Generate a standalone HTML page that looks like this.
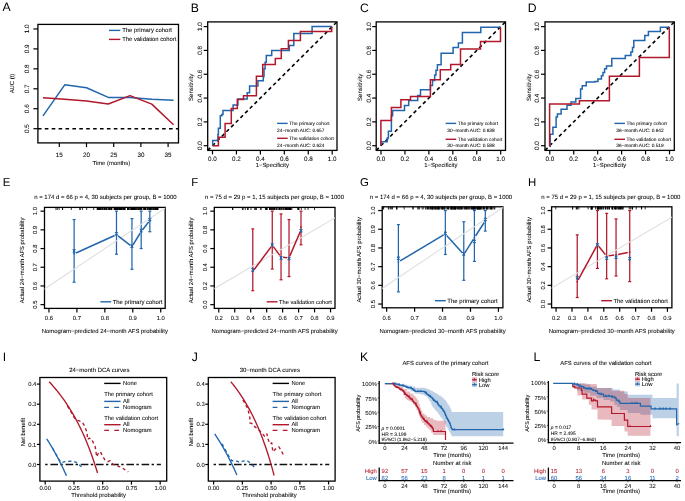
<!DOCTYPE html><html><head><meta charset="utf-8"><style>html,body{margin:0;padding:0;background:#fff;}svg{display:block;will-change:transform;}text{font-family:"Liberation Sans",sans-serif;text-rendering:geometricPrecision;stroke-width:0.05px;}</style></head><body>
<svg width="685" height="501" viewBox="0 0 685 501">
<rect width="685" height="501" fill="#fff"/>
<text x="2.4" y="11.42" font-size="12.2" fill="#000">A</text>
<rect x="37.9" y="24.4" width="140.6" height="118.5" fill="none" stroke="#000" stroke-width="1.3"/>
<line x1="33.4" y1="128.7" x2="37.9" y2="128.7" stroke="#000" stroke-width="1.2" stroke-linecap="butt"/>
<text transform="translate(26.3,128.7) rotate(-90)" x="0" y="2.27" font-size="6.3" text-anchor="middle" fill="#000" stroke="#000">0.5</text>
<line x1="33.4" y1="108.75" x2="37.9" y2="108.75" stroke="#000" stroke-width="1.2" stroke-linecap="butt"/>
<text transform="translate(26.3,108.75) rotate(-90)" x="0" y="2.27" font-size="6.3" text-anchor="middle" fill="#000" stroke="#000">0.6</text>
<line x1="33.4" y1="88.8" x2="37.9" y2="88.8" stroke="#000" stroke-width="1.2" stroke-linecap="butt"/>
<text transform="translate(26.3,88.8) rotate(-90)" x="0" y="2.27" font-size="6.3" text-anchor="middle" fill="#000" stroke="#000">0.7</text>
<line x1="33.4" y1="68.85" x2="37.9" y2="68.85" stroke="#000" stroke-width="1.2" stroke-linecap="butt"/>
<text transform="translate(26.3,68.85) rotate(-90)" x="0" y="2.27" font-size="6.3" text-anchor="middle" fill="#000" stroke="#000">0.8</text>
<line x1="33.4" y1="48.9" x2="37.9" y2="48.9" stroke="#000" stroke-width="1.2" stroke-linecap="butt"/>
<text transform="translate(26.3,48.9) rotate(-90)" x="0" y="2.27" font-size="6.3" text-anchor="middle" fill="#000" stroke="#000">0.9</text>
<line x1="33.4" y1="28.95" x2="37.9" y2="28.95" stroke="#000" stroke-width="1.2" stroke-linecap="butt"/>
<text transform="translate(26.3,28.95) rotate(-90)" x="0" y="2.27" font-size="6.3" text-anchor="middle" fill="#000" stroke="#000">1.0</text>
<line x1="59.3" y1="142.9" x2="59.3" y2="147.1" stroke="#000" stroke-width="1.2" stroke-linecap="butt"/>
<text x="59.3" y="156.77" font-size="6.3" text-anchor="middle" fill="#000" stroke="#000">15</text>
<line x1="86.5" y1="142.9" x2="86.5" y2="147.1" stroke="#000" stroke-width="1.2" stroke-linecap="butt"/>
<text x="86.5" y="156.77" font-size="6.3" text-anchor="middle" fill="#000" stroke="#000">20</text>
<line x1="113.7" y1="142.9" x2="113.7" y2="147.1" stroke="#000" stroke-width="1.2" stroke-linecap="butt"/>
<text x="113.7" y="156.77" font-size="6.3" text-anchor="middle" fill="#000" stroke="#000">25</text>
<line x1="140.9" y1="142.9" x2="140.9" y2="147.1" stroke="#000" stroke-width="1.2" stroke-linecap="butt"/>
<text x="140.9" y="156.77" font-size="6.3" text-anchor="middle" fill="#000" stroke="#000">30</text>
<line x1="168.1" y1="142.9" x2="168.1" y2="147.1" stroke="#000" stroke-width="1.2" stroke-linecap="butt"/>
<text x="168.1" y="156.77" font-size="6.3" text-anchor="middle" fill="#000" stroke="#000">35</text>
<text x="111.4" y="165.02" font-size="5.9" text-anchor="middle" fill="#000" stroke="#000">Time (months)</text>
<text transform="translate(12.2,83.5) rotate(-90)" x="0" y="2.12" font-size="5.9" text-anchor="middle" fill="#000" stroke="#000">AUC (t)</text>
<line x1="37.9" y1="128.7" x2="178.5" y2="128.7" stroke="#000" stroke-width="1.6" stroke-dasharray="3.6,3.3" stroke-linecap="butt"/>
<polyline points="42.98,115.93 64.74,84.81 86.5,87.8 108.26,97.38 130.02,97.38 151.78,99.17 173.54,100.37" fill="none" stroke="#2166AC" stroke-width="1.5" stroke-linejoin="round" stroke-linecap="butt"/>
<polyline points="42.98,97.78 64.74,99.27 86.5,100.97 108.26,103.96 130.02,95.58 151.78,104.16 173.54,124.71" fill="none" stroke="#B2182B" stroke-width="1.5" stroke-linejoin="round" stroke-linecap="butt"/>
<line x1="109" y1="30.4" x2="120.3" y2="30.4" stroke="#2166AC" stroke-width="1.4" stroke-linecap="butt"/>
<line x1="109" y1="39.4" x2="120.3" y2="39.4" stroke="#B2182B" stroke-width="1.4" stroke-linecap="butt"/>
<text x="122.2" y="32.04" font-size="5.95" text-anchor="start" fill="#000" stroke="#000">The primary cohort</text>
<text x="122.2" y="41.01" font-size="5.85" text-anchor="start" fill="#000" stroke="#000">The validation cohort</text>
<text x="190.7" y="11.62" font-size="12.2" fill="#000">B</text>
<rect x="207.7" y="21.9" width="129.3" height="128.5" fill="none" stroke="#000" stroke-width="1.3"/>
<line x1="203.7" y1="145.7" x2="207.7" y2="145.7" stroke="#000" stroke-width="1.2" stroke-linecap="butt"/>
<line x1="212.5" y1="150.4" x2="212.5" y2="154.4" stroke="#000" stroke-width="1.2" stroke-linecap="butt"/>
<text transform="translate(199.8,145.7) rotate(-90)" x="0" y="2.27" font-size="6.3" text-anchor="middle" fill="#000" stroke="#000">0.0</text>
<text x="212.5" y="160.57" font-size="6.3" text-anchor="middle" fill="#000" stroke="#000">0.0</text>
<line x1="203.7" y1="121.88" x2="207.7" y2="121.88" stroke="#000" stroke-width="1.2" stroke-linecap="butt"/>
<line x1="236.44" y1="150.4" x2="236.44" y2="154.4" stroke="#000" stroke-width="1.2" stroke-linecap="butt"/>
<text transform="translate(199.8,121.88) rotate(-90)" x="0" y="2.27" font-size="6.3" text-anchor="middle" fill="#000" stroke="#000">0.2</text>
<text x="236.44" y="160.57" font-size="6.3" text-anchor="middle" fill="#000" stroke="#000">0.2</text>
<line x1="203.7" y1="98.06" x2="207.7" y2="98.06" stroke="#000" stroke-width="1.2" stroke-linecap="butt"/>
<line x1="260.38" y1="150.4" x2="260.38" y2="154.4" stroke="#000" stroke-width="1.2" stroke-linecap="butt"/>
<text transform="translate(199.8,98.06) rotate(-90)" x="0" y="2.27" font-size="6.3" text-anchor="middle" fill="#000" stroke="#000">0.4</text>
<text x="260.38" y="160.57" font-size="6.3" text-anchor="middle" fill="#000" stroke="#000">0.4</text>
<line x1="203.7" y1="74.24" x2="207.7" y2="74.24" stroke="#000" stroke-width="1.2" stroke-linecap="butt"/>
<line x1="284.32" y1="150.4" x2="284.32" y2="154.4" stroke="#000" stroke-width="1.2" stroke-linecap="butt"/>
<text transform="translate(199.8,74.24) rotate(-90)" x="0" y="2.27" font-size="6.3" text-anchor="middle" fill="#000" stroke="#000">0.6</text>
<text x="284.32" y="160.57" font-size="6.3" text-anchor="middle" fill="#000" stroke="#000">0.6</text>
<line x1="203.7" y1="50.42" x2="207.7" y2="50.42" stroke="#000" stroke-width="1.2" stroke-linecap="butt"/>
<line x1="308.26" y1="150.4" x2="308.26" y2="154.4" stroke="#000" stroke-width="1.2" stroke-linecap="butt"/>
<text transform="translate(199.8,50.42) rotate(-90)" x="0" y="2.27" font-size="6.3" text-anchor="middle" fill="#000" stroke="#000">0.8</text>
<text x="308.26" y="160.57" font-size="6.3" text-anchor="middle" fill="#000" stroke="#000">0.8</text>
<line x1="203.7" y1="26.6" x2="207.7" y2="26.6" stroke="#000" stroke-width="1.2" stroke-linecap="butt"/>
<line x1="332.2" y1="150.4" x2="332.2" y2="154.4" stroke="#000" stroke-width="1.2" stroke-linecap="butt"/>
<text transform="translate(199.8,26.6) rotate(-90)" x="0" y="2.27" font-size="6.3" text-anchor="middle" fill="#000" stroke="#000">1.0</text>
<text x="332.2" y="160.57" font-size="6.3" text-anchor="middle" fill="#000" stroke="#000">1.0</text>
<text x="272.35" y="166.92" font-size="5.9" text-anchor="middle" fill="#000" stroke="#000">1−Specificity</text>
<text transform="translate(191.1,87.35) rotate(-90)" x="0" y="2.2" font-size="6.1" text-anchor="middle" fill="#000" stroke="#000">Sensitivity</text>
<line x1="207.7" y1="150.4" x2="337" y2="21.9" stroke="#000" stroke-width="1.6" stroke-dasharray="3.6,3.0" stroke-linecap="butt"/>
<polyline points="212.7,145.7 212.7,140.5 217.9,140.5 217.9,134.5 218.4,134.5 218.4,128.3 220.3,128.3 220.3,115.7 221.8,115.7 221.8,114.6 223,114.6 223,110.4 233.1,110.4 233.1,105 237.9,105 237.9,99 247.2,99 247.2,92.7 249.6,92.7 249.6,85.9 257.9,85.9 257.9,80.7 263.3,80.7 263.3,76.5 264,76.5 264,68.7 265.1,68.7 265.1,62.2 266.3,62.2 266.3,55.6 271.7,55.6 271.7,50.6 289.3,50.6 289.3,45.5 293.8,45.5 293.8,33.4 312.1,33.4 312.1,26.6 331.7,26.6" fill="none" stroke="#2166AC" stroke-width="1.5" stroke-linejoin="miter" stroke-linecap="butt"/>
<polyline points="212.7,145.7 218.4,145.7 218.4,137.3 225.1,137.3 225.1,123.5 231.3,123.5 231.3,108.6 237.3,108.6 237.3,99.6 243.5,99.6 243.5,95.7 256.4,95.7 256.4,76.3 262.7,76.3 262.7,64.6 275.3,64.6 275.3,58.6 281.3,58.6 281.3,48.7 288.4,48.7 288.4,40.6 300.4,40.6 300.4,31.6 331.7,31.6 331.7,26.6" fill="none" stroke="#B2182B" stroke-width="1.5" stroke-linejoin="miter" stroke-linecap="butt"/>
<line x1="277.1" y1="123.4" x2="287.7" y2="123.4" stroke="#2166AC" stroke-width="1.4" stroke-linecap="butt"/>
<text x="289.3" y="125.13" font-size="4.8" text-anchor="start" fill="#000" stroke="#000">The primary cohort</text>
<text x="277.1" y="132.03" font-size="4.8" text-anchor="start" fill="#000" stroke="#000">24−month AUC: 0.657</text>
<line x1="277.1" y1="138.3" x2="287.7" y2="138.3" stroke="#B2182B" stroke-width="1.4" stroke-linecap="butt"/>
<text x="289.3" y="140.03" font-size="4.8" text-anchor="start" fill="#000" stroke="#000">The validation cohort</text>
<text x="277.1" y="146.63" font-size="4.8" text-anchor="start" fill="#000" stroke="#000">24−month AUC: 0.624</text>
<text x="360" y="11.62" font-size="12.2" fill="#000">C</text>
<rect x="376.2" y="21.9" width="129.3" height="128.5" fill="none" stroke="#000" stroke-width="1.3"/>
<line x1="372.2" y1="145.7" x2="376.2" y2="145.7" stroke="#000" stroke-width="1.2" stroke-linecap="butt"/>
<line x1="381" y1="150.4" x2="381" y2="154.4" stroke="#000" stroke-width="1.2" stroke-linecap="butt"/>
<text transform="translate(368.3,145.7) rotate(-90)" x="0" y="2.27" font-size="6.3" text-anchor="middle" fill="#000" stroke="#000">0.0</text>
<text x="381" y="160.57" font-size="6.3" text-anchor="middle" fill="#000" stroke="#000">0.0</text>
<line x1="372.2" y1="121.88" x2="376.2" y2="121.88" stroke="#000" stroke-width="1.2" stroke-linecap="butt"/>
<line x1="404.94" y1="150.4" x2="404.94" y2="154.4" stroke="#000" stroke-width="1.2" stroke-linecap="butt"/>
<text transform="translate(368.3,121.88) rotate(-90)" x="0" y="2.27" font-size="6.3" text-anchor="middle" fill="#000" stroke="#000">0.2</text>
<text x="404.94" y="160.57" font-size="6.3" text-anchor="middle" fill="#000" stroke="#000">0.2</text>
<line x1="372.2" y1="98.06" x2="376.2" y2="98.06" stroke="#000" stroke-width="1.2" stroke-linecap="butt"/>
<line x1="428.88" y1="150.4" x2="428.88" y2="154.4" stroke="#000" stroke-width="1.2" stroke-linecap="butt"/>
<text transform="translate(368.3,98.06) rotate(-90)" x="0" y="2.27" font-size="6.3" text-anchor="middle" fill="#000" stroke="#000">0.4</text>
<text x="428.88" y="160.57" font-size="6.3" text-anchor="middle" fill="#000" stroke="#000">0.4</text>
<line x1="372.2" y1="74.24" x2="376.2" y2="74.24" stroke="#000" stroke-width="1.2" stroke-linecap="butt"/>
<line x1="452.82" y1="150.4" x2="452.82" y2="154.4" stroke="#000" stroke-width="1.2" stroke-linecap="butt"/>
<text transform="translate(368.3,74.24) rotate(-90)" x="0" y="2.27" font-size="6.3" text-anchor="middle" fill="#000" stroke="#000">0.6</text>
<text x="452.82" y="160.57" font-size="6.3" text-anchor="middle" fill="#000" stroke="#000">0.6</text>
<line x1="372.2" y1="50.42" x2="376.2" y2="50.42" stroke="#000" stroke-width="1.2" stroke-linecap="butt"/>
<line x1="476.76" y1="150.4" x2="476.76" y2="154.4" stroke="#000" stroke-width="1.2" stroke-linecap="butt"/>
<text transform="translate(368.3,50.42) rotate(-90)" x="0" y="2.27" font-size="6.3" text-anchor="middle" fill="#000" stroke="#000">0.8</text>
<text x="476.76" y="160.57" font-size="6.3" text-anchor="middle" fill="#000" stroke="#000">0.8</text>
<line x1="372.2" y1="26.6" x2="376.2" y2="26.6" stroke="#000" stroke-width="1.2" stroke-linecap="butt"/>
<line x1="500.7" y1="150.4" x2="500.7" y2="154.4" stroke="#000" stroke-width="1.2" stroke-linecap="butt"/>
<text transform="translate(368.3,26.6) rotate(-90)" x="0" y="2.27" font-size="6.3" text-anchor="middle" fill="#000" stroke="#000">1.0</text>
<text x="500.7" y="160.57" font-size="6.3" text-anchor="middle" fill="#000" stroke="#000">1.0</text>
<text x="440.85" y="166.92" font-size="5.9" text-anchor="middle" fill="#000" stroke="#000">1−Specificity</text>
<text transform="translate(359.6,87.35) rotate(-90)" x="0" y="2.2" font-size="6.1" text-anchor="middle" fill="#000" stroke="#000">Sensitivity</text>
<line x1="376.2" y1="150.4" x2="505.5" y2="21.9" stroke="#000" stroke-width="1.6" stroke-dasharray="3.6,3.0" stroke-linecap="butt"/>
<polyline points="380.9,145.7 380.9,141.7 387.2,141.7 387.2,137.9 388.4,137.9 388.4,131.3 391.4,131.3 391.4,115.7 392.6,115.7 392.6,110.4 404.5,110.4 404.5,105.6 408.7,105.6 408.7,100.5 417.7,100.5 417.7,95.4 420.5,95.4 420.5,89.7 430.4,89.7 430.4,85.4 432.5,85.4 432.5,80.6 434.7,80.6 434.7,75 436,75 436,70.3 437.4,70.3 437.4,64.7 441.1,64.7 441.1,53.2 453.1,53.2 453.1,47.6 458.4,47.6 458.4,43 462.4,43 462.4,32.6 480.8,32.6 480.8,27.2 500.5,27.2" fill="none" stroke="#2166AC" stroke-width="1.5" stroke-linejoin="miter" stroke-linecap="butt"/>
<polyline points="380.9,145.7 380.9,120.5 391.4,120.5 391.4,107.4 400.9,107.4 400.9,99.8 410.5,99.8 410.5,96.4 430.4,96.4 430.4,79.8 440.3,79.8 440.3,69.8 450.7,69.8 450.7,64.6 460.5,64.6 460.5,49.1 480.5,49.1 480.5,41.6 500.5,41.6 500.5,27.2" fill="none" stroke="#B2182B" stroke-width="1.5" stroke-linejoin="miter" stroke-linecap="butt"/>
<line x1="445.6" y1="123.4" x2="456.2" y2="123.4" stroke="#2166AC" stroke-width="1.4" stroke-linecap="butt"/>
<text x="457.8" y="125.13" font-size="4.8" text-anchor="start" fill="#000" stroke="#000">The primary cohort</text>
<text x="447.3" y="132.03" font-size="4.8" text-anchor="start" fill="#000" stroke="#000">30−month AUC: 0.638</text>
<line x1="445.6" y1="139.3" x2="456.2" y2="139.3" stroke="#B2182B" stroke-width="1.4" stroke-linecap="butt"/>
<text x="457.8" y="141.03" font-size="4.8" text-anchor="start" fill="#000" stroke="#000">The validation cohort</text>
<text x="447.3" y="146.63" font-size="4.8" text-anchor="start" fill="#000" stroke="#000">30−month AUC: 0.588</text>
<text x="527.7" y="11.62" font-size="12.2" fill="#000">D</text>
<rect x="545" y="21.9" width="129.3" height="128.5" fill="none" stroke="#000" stroke-width="1.3"/>
<line x1="541" y1="145.7" x2="545" y2="145.7" stroke="#000" stroke-width="1.2" stroke-linecap="butt"/>
<line x1="549.8" y1="150.4" x2="549.8" y2="154.4" stroke="#000" stroke-width="1.2" stroke-linecap="butt"/>
<text transform="translate(537.1,145.7) rotate(-90)" x="0" y="2.27" font-size="6.3" text-anchor="middle" fill="#000" stroke="#000">0.0</text>
<text x="549.8" y="160.57" font-size="6.3" text-anchor="middle" fill="#000" stroke="#000">0.0</text>
<line x1="541" y1="121.88" x2="545" y2="121.88" stroke="#000" stroke-width="1.2" stroke-linecap="butt"/>
<line x1="573.74" y1="150.4" x2="573.74" y2="154.4" stroke="#000" stroke-width="1.2" stroke-linecap="butt"/>
<text transform="translate(537.1,121.88) rotate(-90)" x="0" y="2.27" font-size="6.3" text-anchor="middle" fill="#000" stroke="#000">0.2</text>
<text x="573.74" y="160.57" font-size="6.3" text-anchor="middle" fill="#000" stroke="#000">0.2</text>
<line x1="541" y1="98.06" x2="545" y2="98.06" stroke="#000" stroke-width="1.2" stroke-linecap="butt"/>
<line x1="597.68" y1="150.4" x2="597.68" y2="154.4" stroke="#000" stroke-width="1.2" stroke-linecap="butt"/>
<text transform="translate(537.1,98.06) rotate(-90)" x="0" y="2.27" font-size="6.3" text-anchor="middle" fill="#000" stroke="#000">0.4</text>
<text x="597.68" y="160.57" font-size="6.3" text-anchor="middle" fill="#000" stroke="#000">0.4</text>
<line x1="541" y1="74.24" x2="545" y2="74.24" stroke="#000" stroke-width="1.2" stroke-linecap="butt"/>
<line x1="621.62" y1="150.4" x2="621.62" y2="154.4" stroke="#000" stroke-width="1.2" stroke-linecap="butt"/>
<text transform="translate(537.1,74.24) rotate(-90)" x="0" y="2.27" font-size="6.3" text-anchor="middle" fill="#000" stroke="#000">0.6</text>
<text x="621.62" y="160.57" font-size="6.3" text-anchor="middle" fill="#000" stroke="#000">0.6</text>
<line x1="541" y1="50.42" x2="545" y2="50.42" stroke="#000" stroke-width="1.2" stroke-linecap="butt"/>
<line x1="645.56" y1="150.4" x2="645.56" y2="154.4" stroke="#000" stroke-width="1.2" stroke-linecap="butt"/>
<text transform="translate(537.1,50.42) rotate(-90)" x="0" y="2.27" font-size="6.3" text-anchor="middle" fill="#000" stroke="#000">0.8</text>
<text x="645.56" y="160.57" font-size="6.3" text-anchor="middle" fill="#000" stroke="#000">0.8</text>
<line x1="541" y1="26.6" x2="545" y2="26.6" stroke="#000" stroke-width="1.2" stroke-linecap="butt"/>
<line x1="669.5" y1="150.4" x2="669.5" y2="154.4" stroke="#000" stroke-width="1.2" stroke-linecap="butt"/>
<text transform="translate(537.1,26.6) rotate(-90)" x="0" y="2.27" font-size="6.3" text-anchor="middle" fill="#000" stroke="#000">1.0</text>
<text x="669.5" y="160.57" font-size="6.3" text-anchor="middle" fill="#000" stroke="#000">1.0</text>
<text x="609.65" y="166.92" font-size="5.9" text-anchor="middle" fill="#000" stroke="#000">1−Specificity</text>
<text transform="translate(528.4,87.35) rotate(-90)" x="0" y="2.2" font-size="6.1" text-anchor="middle" fill="#000" stroke="#000">Sensitivity</text>
<line x1="545" y1="150.4" x2="674.3" y2="21.9" stroke="#000" stroke-width="1.6" stroke-dasharray="3.6,3.0" stroke-linecap="butt"/>
<polyline points="549.6,146.4 550.2,146.4 550.2,134.2 552.9,134.2 552.9,127.2 556.1,127.2 556.1,117.1 557.4,117.1 557.4,114 561.1,114 561.1,109.2 567,109.2 567,105.2 571,105.2 571,102 575.8,102 575.8,98.4 580.6,98.4 580.6,88.9 582.2,88.9 582.2,85.7 586.2,85.7 586.2,82 595,82 595,81.4 597.9,81.4 597.9,79 601.4,79 601.4,75.8 603,75.8 603,72.6 604.6,72.6 604.6,68.7 606.5,68.7 606.5,66 611.8,66 611.8,58.6 625.3,58.6 625.3,55.4 630.9,55.4 630.9,51.9 632.5,51.9 632.5,47.4 633.8,47.4 633.8,40.4 644.8,40.4 644.8,35.6 648.4,35.6 648.4,31.5 660.4,31.5 660.4,27.2 669.3,27.2" fill="none" stroke="#2166AC" stroke-width="1.5" stroke-linejoin="miter" stroke-linecap="butt"/>
<polyline points="549.6,146.4 549.6,103.9 579.4,103.9 579.4,100.7 609.4,100.7 609.4,76.2 639.4,76.2 639.4,57.5 669.3,57.5 669.3,27.2" fill="none" stroke="#B2182B" stroke-width="1.5" stroke-linejoin="miter" stroke-linecap="butt"/>
<line x1="614.4" y1="123.4" x2="625" y2="123.4" stroke="#2166AC" stroke-width="1.4" stroke-linecap="butt"/>
<text x="626.6" y="125.13" font-size="4.8" text-anchor="start" fill="#000" stroke="#000">The primary cohort</text>
<text x="616.3" y="132.03" font-size="4.8" text-anchor="start" fill="#000" stroke="#000">36−month AUC: 0.642</text>
<line x1="614.4" y1="139.3" x2="625" y2="139.3" stroke="#B2182B" stroke-width="1.4" stroke-linecap="butt"/>
<text x="626.6" y="141.03" font-size="4.8" text-anchor="start" fill="#000" stroke="#000">The validation cohort</text>
<text x="616.3" y="146.63" font-size="4.8" text-anchor="start" fill="#000" stroke="#000">36−month AUC: 0.519</text>
<text x="2.7" y="186.27" font-size="11.4" fill="#000">E</text>
<text x="105.4" y="198.76" font-size="6.0" text-anchor="middle" fill="#000" stroke="#000">n = 174 d = 66 p = 4, 30 subjects per group, B = 1000</text>
<clipPath id="cE"><rect x="44.5" y="207.4" width="120.7" height="101"/></clipPath>
<rect x="44.5" y="207.4" width="120.7" height="101" fill="none" stroke="#000" stroke-width="1.3"/>
<line x1="40.5" y1="304.65" x2="44.5" y2="304.65" stroke="#000" stroke-width="1.2" stroke-linecap="butt"/>
<text transform="translate(35.3,304.65) rotate(-90)" x="0" y="2.12" font-size="5.9" text-anchor="middle" fill="#000" stroke="#000">0.5</text>
<line x1="40.5" y1="285.95" x2="44.5" y2="285.95" stroke="#000" stroke-width="1.2" stroke-linecap="butt"/>
<text transform="translate(35.3,285.95) rotate(-90)" x="0" y="2.12" font-size="5.9" text-anchor="middle" fill="#000" stroke="#000">0.6</text>
<line x1="40.5" y1="267.25" x2="44.5" y2="267.25" stroke="#000" stroke-width="1.2" stroke-linecap="butt"/>
<text transform="translate(35.3,267.25) rotate(-90)" x="0" y="2.12" font-size="5.9" text-anchor="middle" fill="#000" stroke="#000">0.7</text>
<line x1="40.5" y1="248.55" x2="44.5" y2="248.55" stroke="#000" stroke-width="1.2" stroke-linecap="butt"/>
<text transform="translate(35.3,248.55) rotate(-90)" x="0" y="2.12" font-size="5.9" text-anchor="middle" fill="#000" stroke="#000">0.8</text>
<line x1="40.5" y1="229.85" x2="44.5" y2="229.85" stroke="#000" stroke-width="1.2" stroke-linecap="butt"/>
<text transform="translate(35.3,229.85) rotate(-90)" x="0" y="2.12" font-size="5.9" text-anchor="middle" fill="#000" stroke="#000">0.9</text>
<line x1="40.5" y1="211.15" x2="44.5" y2="211.15" stroke="#000" stroke-width="1.2" stroke-linecap="butt"/>
<text transform="translate(35.3,211.15) rotate(-90)" x="0" y="2.12" font-size="5.9" text-anchor="middle" fill="#000" stroke="#000">1.0</text>
<line x1="48.97" y1="308.4" x2="48.97" y2="312.4" stroke="#000" stroke-width="1.2" stroke-linecap="butt"/>
<text x="48.97" y="320.12" font-size="5.9" text-anchor="middle" fill="#000" stroke="#000">0.6</text>
<line x1="76.91" y1="308.4" x2="76.91" y2="312.4" stroke="#000" stroke-width="1.2" stroke-linecap="butt"/>
<text x="76.91" y="320.12" font-size="5.9" text-anchor="middle" fill="#000" stroke="#000">0.7</text>
<line x1="104.85" y1="308.4" x2="104.85" y2="312.4" stroke="#000" stroke-width="1.2" stroke-linecap="butt"/>
<text x="104.85" y="320.12" font-size="5.9" text-anchor="middle" fill="#000" stroke="#000">0.8</text>
<line x1="132.79" y1="308.4" x2="132.79" y2="312.4" stroke="#000" stroke-width="1.2" stroke-linecap="butt"/>
<text x="132.79" y="320.12" font-size="5.9" text-anchor="middle" fill="#000" stroke="#000">0.9</text>
<line x1="160.73" y1="308.4" x2="160.73" y2="312.4" stroke="#000" stroke-width="1.2" stroke-linecap="butt"/>
<text x="160.73" y="320.12" font-size="5.9" text-anchor="middle" fill="#000" stroke="#000">1.0</text>
<text x="104.85" y="333.32" font-size="5.9" text-anchor="middle" fill="#000" stroke="#000">Nomogram−predicted 24−month AFS probability</text>
<text transform="translate(21.4,260.4) rotate(-90)" x="0" y="2.12" font-size="5.9" text-anchor="middle" fill="#000" stroke="#000">Actual 24−month AFS probability</text>
<line x1="80.22" y1="207.4" x2="80.22" y2="210" stroke="#000" stroke-width="0.8" stroke-linecap="butt"/>
<line x1="111.46" y1="207.4" x2="111.46" y2="210" stroke="#000" stroke-width="0.8" stroke-linecap="butt"/>
<line x1="93.68" y1="207.4" x2="93.68" y2="210" stroke="#000" stroke-width="0.8" stroke-linecap="butt"/>
<line x1="117.54" y1="207.4" x2="117.54" y2="210" stroke="#000" stroke-width="0.8" stroke-linecap="butt"/>
<line x1="119.77" y1="207.4" x2="119.77" y2="210" stroke="#000" stroke-width="0.8" stroke-linecap="butt"/>
<line x1="62.64" y1="207.4" x2="62.64" y2="210" stroke="#000" stroke-width="0.8" stroke-linecap="butt"/>
<line x1="57.3" y1="207.4" x2="57.3" y2="210" stroke="#000" stroke-width="0.8" stroke-linecap="butt"/>
<line x1="141.36" y1="207.4" x2="141.36" y2="210" stroke="#000" stroke-width="0.8" stroke-linecap="butt"/>
<line x1="82.4" y1="207.4" x2="82.4" y2="210" stroke="#000" stroke-width="0.8" stroke-linecap="butt"/>
<line x1="79.85" y1="207.4" x2="79.85" y2="210" stroke="#000" stroke-width="0.8" stroke-linecap="butt"/>
<line x1="157.49" y1="207.4" x2="157.49" y2="210" stroke="#000" stroke-width="0.8" stroke-linecap="butt"/>
<line x1="103.91" y1="207.4" x2="103.91" y2="210" stroke="#000" stroke-width="0.8" stroke-linecap="butt"/>
<line x1="141.26" y1="207.4" x2="141.26" y2="210" stroke="#000" stroke-width="0.8" stroke-linecap="butt"/>
<line x1="104.53" y1="207.4" x2="104.53" y2="210" stroke="#000" stroke-width="0.8" stroke-linecap="butt"/>
<line x1="121.13" y1="207.4" x2="121.13" y2="210" stroke="#000" stroke-width="0.8" stroke-linecap="butt"/>
<line x1="71.32" y1="207.4" x2="71.32" y2="210" stroke="#000" stroke-width="0.8" stroke-linecap="butt"/>
<line x1="120.7" y1="207.4" x2="120.7" y2="210" stroke="#000" stroke-width="0.8" stroke-linecap="butt"/>
<line x1="144.48" y1="207.4" x2="144.48" y2="210" stroke="#000" stroke-width="0.8" stroke-linecap="butt"/>
<line x1="109.31" y1="207.4" x2="109.31" y2="210" stroke="#000" stroke-width="0.8" stroke-linecap="butt"/>
<line x1="131.55" y1="207.4" x2="131.55" y2="210" stroke="#000" stroke-width="0.8" stroke-linecap="butt"/>
<line x1="124.43" y1="207.4" x2="124.43" y2="210" stroke="#000" stroke-width="0.8" stroke-linecap="butt"/>
<line x1="62.48" y1="207.4" x2="62.48" y2="210" stroke="#000" stroke-width="0.8" stroke-linecap="butt"/>
<line x1="133.28" y1="207.4" x2="133.28" y2="210" stroke="#000" stroke-width="0.8" stroke-linecap="butt"/>
<line x1="116.24" y1="207.4" x2="116.24" y2="210" stroke="#000" stroke-width="0.8" stroke-linecap="butt"/>
<line x1="86.68" y1="207.4" x2="86.68" y2="210" stroke="#000" stroke-width="0.8" stroke-linecap="butt"/>
<line x1="59.12" y1="207.4" x2="59.12" y2="210" stroke="#000" stroke-width="0.8" stroke-linecap="butt"/>
<line x1="144.22" y1="207.4" x2="144.22" y2="210" stroke="#000" stroke-width="0.8" stroke-linecap="butt"/>
<line x1="104.17" y1="207.4" x2="104.17" y2="210" stroke="#000" stroke-width="0.8" stroke-linecap="butt"/>
<line x1="129.26" y1="207.4" x2="129.26" y2="210" stroke="#000" stroke-width="0.8" stroke-linecap="butt"/>
<line x1="145.58" y1="207.4" x2="145.58" y2="210" stroke="#000" stroke-width="0.8" stroke-linecap="butt"/>
<line x1="140.36" y1="207.4" x2="140.36" y2="210" stroke="#000" stroke-width="0.8" stroke-linecap="butt"/>
<line x1="153.09" y1="207.4" x2="153.09" y2="210" stroke="#000" stroke-width="0.8" stroke-linecap="butt"/>
<line x1="120.75" y1="207.4" x2="120.75" y2="210" stroke="#000" stroke-width="0.8" stroke-linecap="butt"/>
<line x1="145.7" y1="207.4" x2="145.7" y2="210" stroke="#000" stroke-width="0.8" stroke-linecap="butt"/>
<line x1="123.8" y1="207.4" x2="123.8" y2="210" stroke="#000" stroke-width="0.8" stroke-linecap="butt"/>
<line x1="153.98" y1="207.4" x2="153.98" y2="210" stroke="#000" stroke-width="0.8" stroke-linecap="butt"/>
<line x1="150.49" y1="207.4" x2="150.49" y2="210" stroke="#000" stroke-width="0.8" stroke-linecap="butt"/>
<line x1="102.46" y1="207.4" x2="102.46" y2="210" stroke="#000" stroke-width="0.8" stroke-linecap="butt"/>
<line x1="104.83" y1="207.4" x2="104.83" y2="210" stroke="#000" stroke-width="0.8" stroke-linecap="butt"/>
<line x1="109.81" y1="207.4" x2="109.81" y2="210" stroke="#000" stroke-width="0.8" stroke-linecap="butt"/>
<line x1="155.81" y1="207.4" x2="155.81" y2="210" stroke="#000" stroke-width="0.8" stroke-linecap="butt"/>
<line x1="123.28" y1="207.4" x2="123.28" y2="210" stroke="#000" stroke-width="0.8" stroke-linecap="butt"/>
<line x1="134.99" y1="207.4" x2="134.99" y2="210" stroke="#000" stroke-width="0.8" stroke-linecap="butt"/>
<line x1="114.97" y1="207.4" x2="114.97" y2="210" stroke="#000" stroke-width="0.8" stroke-linecap="butt"/>
<line x1="127.65" y1="207.4" x2="127.65" y2="210" stroke="#000" stroke-width="0.8" stroke-linecap="butt"/>
<line x1="120.19" y1="207.4" x2="120.19" y2="210" stroke="#000" stroke-width="0.8" stroke-linecap="butt"/>
<line x1="118.04" y1="207.4" x2="118.04" y2="210" stroke="#000" stroke-width="0.8" stroke-linecap="butt"/>
<line x1="132.43" y1="207.4" x2="132.43" y2="210" stroke="#000" stroke-width="0.8" stroke-linecap="butt"/>
<line x1="132.38" y1="207.4" x2="132.38" y2="210" stroke="#000" stroke-width="0.8" stroke-linecap="butt"/>
<line x1="152.05" y1="207.4" x2="152.05" y2="210" stroke="#000" stroke-width="0.8" stroke-linecap="butt"/>
<line x1="138.39" y1="207.4" x2="138.39" y2="210" stroke="#000" stroke-width="0.8" stroke-linecap="butt"/>
<line x1="153.57" y1="207.4" x2="153.57" y2="210" stroke="#000" stroke-width="0.8" stroke-linecap="butt"/>
<line x1="149.11" y1="207.4" x2="149.11" y2="210" stroke="#000" stroke-width="0.8" stroke-linecap="butt"/>
<line x1="157.38" y1="207.4" x2="157.38" y2="210" stroke="#000" stroke-width="0.8" stroke-linecap="butt"/>
<line x1="137.73" y1="207.4" x2="137.73" y2="210" stroke="#000" stroke-width="0.8" stroke-linecap="butt"/>
<line x1="106.49" y1="207.4" x2="106.49" y2="210" stroke="#000" stroke-width="0.8" stroke-linecap="butt"/>
<line x1="149.37" y1="207.4" x2="149.37" y2="210" stroke="#000" stroke-width="0.8" stroke-linecap="butt"/>
<line x1="155.76" y1="207.4" x2="155.76" y2="210" stroke="#000" stroke-width="0.8" stroke-linecap="butt"/>
<line x1="152.08" y1="207.4" x2="152.08" y2="210" stroke="#000" stroke-width="0.8" stroke-linecap="butt"/>
<line x1="131.45" y1="207.4" x2="131.45" y2="210" stroke="#000" stroke-width="0.8" stroke-linecap="butt"/>
<line x1="140.34" y1="207.4" x2="140.34" y2="210" stroke="#000" stroke-width="0.8" stroke-linecap="butt"/>
<line x1="109.45" y1="207.4" x2="109.45" y2="210" stroke="#000" stroke-width="0.8" stroke-linecap="butt"/>
<line x1="147.59" y1="207.4" x2="147.59" y2="210" stroke="#000" stroke-width="0.8" stroke-linecap="butt"/>
<line x1="131.72" y1="207.4" x2="131.72" y2="210" stroke="#000" stroke-width="0.8" stroke-linecap="butt"/>
<line x1="113.98" y1="207.4" x2="113.98" y2="210" stroke="#000" stroke-width="0.8" stroke-linecap="butt"/>
<line x1="100.37" y1="207.4" x2="100.37" y2="210" stroke="#000" stroke-width="0.8" stroke-linecap="butt"/>
<line x1="148.96" y1="207.4" x2="148.96" y2="210" stroke="#000" stroke-width="0.8" stroke-linecap="butt"/>
<line x1="157.31" y1="207.4" x2="157.31" y2="210" stroke="#000" stroke-width="0.8" stroke-linecap="butt"/>
<line x1="101.91" y1="207.4" x2="101.91" y2="210" stroke="#000" stroke-width="0.8" stroke-linecap="butt"/>
<line x1="145.68" y1="207.4" x2="145.68" y2="210" stroke="#000" stroke-width="0.8" stroke-linecap="butt"/>
<line x1="121.7" y1="207.4" x2="121.7" y2="210" stroke="#000" stroke-width="0.8" stroke-linecap="butt"/>
<line x1="105.74" y1="207.4" x2="105.74" y2="210" stroke="#000" stroke-width="0.8" stroke-linecap="butt"/>
<line x1="114.53" y1="207.4" x2="114.53" y2="210" stroke="#000" stroke-width="0.8" stroke-linecap="butt"/>
<line x1="143.72" y1="207.4" x2="143.72" y2="210" stroke="#000" stroke-width="0.8" stroke-linecap="butt"/>
<line x1="150.12" y1="207.4" x2="150.12" y2="210" stroke="#000" stroke-width="0.8" stroke-linecap="butt"/>
<line x1="99.18" y1="207.4" x2="99.18" y2="210" stroke="#000" stroke-width="0.8" stroke-linecap="butt"/>
<line x1="134.24" y1="207.4" x2="134.24" y2="210" stroke="#000" stroke-width="0.8" stroke-linecap="butt"/>
<line x1="99.23" y1="207.4" x2="99.23" y2="210" stroke="#000" stroke-width="0.8" stroke-linecap="butt"/>
<line x1="140.63" y1="207.4" x2="140.63" y2="210" stroke="#000" stroke-width="0.8" stroke-linecap="butt"/>
<line x1="116.81" y1="207.4" x2="116.81" y2="210" stroke="#000" stroke-width="0.8" stroke-linecap="butt"/>
<line x1="150.62" y1="207.4" x2="150.62" y2="210" stroke="#000" stroke-width="0.8" stroke-linecap="butt"/>
<line x1="156.75" y1="207.4" x2="156.75" y2="210" stroke="#000" stroke-width="0.8" stroke-linecap="butt"/>
<line x1="127.54" y1="207.4" x2="127.54" y2="210" stroke="#000" stroke-width="0.8" stroke-linecap="butt"/>
<line x1="157.84" y1="207.4" x2="157.84" y2="210" stroke="#000" stroke-width="0.8" stroke-linecap="butt"/>
<line x1="115.5" y1="207.4" x2="115.5" y2="210" stroke="#000" stroke-width="0.8" stroke-linecap="butt"/>
<line x1="101.2" y1="207.4" x2="101.2" y2="210" stroke="#000" stroke-width="0.8" stroke-linecap="butt"/>
<line x1="133.33" y1="207.4" x2="133.33" y2="210" stroke="#000" stroke-width="0.8" stroke-linecap="butt"/>
<line x1="98.4" y1="207.4" x2="98.4" y2="210" stroke="#000" stroke-width="0.8" stroke-linecap="butt"/>
<line x1="108.6" y1="207.4" x2="108.6" y2="210" stroke="#000" stroke-width="0.8" stroke-linecap="butt"/>
<line x1="121.54" y1="207.4" x2="121.54" y2="210" stroke="#000" stroke-width="0.8" stroke-linecap="butt"/>
<line x1="133.99" y1="207.4" x2="133.99" y2="210" stroke="#000" stroke-width="0.8" stroke-linecap="butt"/>
<line x1="106.07" y1="207.4" x2="106.07" y2="210" stroke="#000" stroke-width="0.8" stroke-linecap="butt"/>
<line x1="99.08" y1="207.4" x2="99.08" y2="210" stroke="#000" stroke-width="0.8" stroke-linecap="butt"/>
<line x1="149.81" y1="207.4" x2="149.81" y2="210" stroke="#000" stroke-width="0.8" stroke-linecap="butt"/>
<line x1="115.76" y1="207.4" x2="115.76" y2="210" stroke="#000" stroke-width="0.8" stroke-linecap="butt"/>
<line x1="155.39" y1="207.4" x2="155.39" y2="210" stroke="#000" stroke-width="0.8" stroke-linecap="butt"/>
<line x1="151.58" y1="207.4" x2="151.58" y2="210" stroke="#000" stroke-width="0.8" stroke-linecap="butt"/>
<line x1="119.69" y1="207.4" x2="119.69" y2="210" stroke="#000" stroke-width="0.8" stroke-linecap="butt"/>
<line x1="124.77" y1="207.4" x2="124.77" y2="210" stroke="#000" stroke-width="0.8" stroke-linecap="butt"/>
<line x1="128.44" y1="207.4" x2="128.44" y2="210" stroke="#000" stroke-width="0.8" stroke-linecap="butt"/>
<line x1="136.05" y1="207.4" x2="136.05" y2="210" stroke="#000" stroke-width="0.8" stroke-linecap="butt"/>
<line x1="133.08" y1="207.4" x2="133.08" y2="210" stroke="#000" stroke-width="0.8" stroke-linecap="butt"/>
<line x1="130.84" y1="207.4" x2="130.84" y2="210" stroke="#000" stroke-width="0.8" stroke-linecap="butt"/>
<line x1="134.59" y1="207.4" x2="134.59" y2="210" stroke="#000" stroke-width="0.8" stroke-linecap="butt"/>
<line x1="154.29" y1="207.4" x2="154.29" y2="210" stroke="#000" stroke-width="0.8" stroke-linecap="butt"/>
<line x1="127.63" y1="207.4" x2="127.63" y2="210" stroke="#000" stroke-width="0.8" stroke-linecap="butt"/>
<line x1="122.97" y1="207.4" x2="122.97" y2="210" stroke="#000" stroke-width="0.8" stroke-linecap="butt"/>
<line x1="140.74" y1="207.4" x2="140.74" y2="210" stroke="#000" stroke-width="0.8" stroke-linecap="butt"/>
<line x1="111.07" y1="207.4" x2="111.07" y2="210" stroke="#000" stroke-width="0.8" stroke-linecap="butt"/>
<line x1="114.98" y1="207.4" x2="114.98" y2="210" stroke="#000" stroke-width="0.8" stroke-linecap="butt"/>
<line x1="156.57" y1="207.4" x2="156.57" y2="210" stroke="#000" stroke-width="0.8" stroke-linecap="butt"/>
<line x1="128.5" y1="207.4" x2="128.5" y2="210" stroke="#000" stroke-width="0.8" stroke-linecap="butt"/>
<line x1="130.18" y1="207.4" x2="130.18" y2="210" stroke="#000" stroke-width="0.8" stroke-linecap="butt"/>
<line x1="97.17" y1="207.4" x2="97.17" y2="210" stroke="#000" stroke-width="0.8" stroke-linecap="butt"/>
<line x1="121.99" y1="207.4" x2="121.99" y2="210" stroke="#000" stroke-width="0.8" stroke-linecap="butt"/>
<line x1="132.12" y1="207.4" x2="132.12" y2="210" stroke="#000" stroke-width="0.8" stroke-linecap="butt"/>
<line x1="97.7" y1="207.4" x2="97.7" y2="210" stroke="#000" stroke-width="0.8" stroke-linecap="butt"/>
<line x1="134.32" y1="207.4" x2="134.32" y2="210" stroke="#000" stroke-width="0.8" stroke-linecap="butt"/>
<line x1="135.33" y1="207.4" x2="135.33" y2="210" stroke="#000" stroke-width="0.8" stroke-linecap="butt"/>
<line x1="100.16" y1="207.4" x2="100.16" y2="210" stroke="#000" stroke-width="0.8" stroke-linecap="butt"/>
<line x1="135.03" y1="207.4" x2="135.03" y2="210" stroke="#000" stroke-width="0.8" stroke-linecap="butt"/>
<line x1="125.13" y1="207.4" x2="125.13" y2="210" stroke="#000" stroke-width="0.8" stroke-linecap="butt"/>
<line x1="138.22" y1="207.4" x2="138.22" y2="210" stroke="#000" stroke-width="0.8" stroke-linecap="butt"/>
<line x1="118.14" y1="207.4" x2="118.14" y2="210" stroke="#000" stroke-width="0.8" stroke-linecap="butt"/>
<line x1="139.92" y1="207.4" x2="139.92" y2="210" stroke="#000" stroke-width="0.8" stroke-linecap="butt"/>
<line x1="141.83" y1="207.4" x2="141.83" y2="210" stroke="#000" stroke-width="0.8" stroke-linecap="butt"/>
<line x1="97.83" y1="207.4" x2="97.83" y2="210" stroke="#000" stroke-width="0.8" stroke-linecap="butt"/>
<line x1="100.19" y1="207.4" x2="100.19" y2="210" stroke="#000" stroke-width="0.8" stroke-linecap="butt"/>
<line x1="138.02" y1="207.4" x2="138.02" y2="210" stroke="#000" stroke-width="0.8" stroke-linecap="butt"/>
<line x1="155.68" y1="207.4" x2="155.68" y2="210" stroke="#000" stroke-width="0.8" stroke-linecap="butt"/>
<line x1="111.9" y1="207.4" x2="111.9" y2="210" stroke="#000" stroke-width="0.8" stroke-linecap="butt"/>
<line x1="124.52" y1="207.4" x2="124.52" y2="210" stroke="#000" stroke-width="0.8" stroke-linecap="butt"/>
<line x1="132.9" y1="207.4" x2="132.9" y2="210" stroke="#000" stroke-width="0.8" stroke-linecap="butt"/>
<line x1="116.14" y1="207.4" x2="116.14" y2="210" stroke="#000" stroke-width="0.8" stroke-linecap="butt"/>
<line x1="118.84" y1="207.4" x2="118.84" y2="210" stroke="#000" stroke-width="0.8" stroke-linecap="butt"/>
<line x1="115.69" y1="207.4" x2="115.69" y2="210" stroke="#000" stroke-width="0.8" stroke-linecap="butt"/>
<line x1="119.16" y1="207.4" x2="119.16" y2="210" stroke="#000" stroke-width="0.8" stroke-linecap="butt"/>
<line x1="133.08" y1="207.4" x2="133.08" y2="210" stroke="#000" stroke-width="0.8" stroke-linecap="butt"/>
<line x1="114.93" y1="207.4" x2="114.93" y2="210" stroke="#000" stroke-width="0.8" stroke-linecap="butt"/>
<line x1="119.65" y1="207.4" x2="119.65" y2="210" stroke="#000" stroke-width="0.8" stroke-linecap="butt"/>
<line x1="143.94" y1="207.4" x2="143.94" y2="210" stroke="#000" stroke-width="0.8" stroke-linecap="butt"/>
<line x1="98.12" y1="207.4" x2="98.12" y2="210" stroke="#000" stroke-width="0.8" stroke-linecap="butt"/>
<line x1="131.46" y1="207.4" x2="131.46" y2="210" stroke="#000" stroke-width="0.8" stroke-linecap="butt"/>
<line x1="141.66" y1="207.4" x2="141.66" y2="210" stroke="#000" stroke-width="0.8" stroke-linecap="butt"/>
<line x1="115.52" y1="207.4" x2="115.52" y2="210" stroke="#000" stroke-width="0.8" stroke-linecap="butt"/>
<line x1="110.15" y1="207.4" x2="110.15" y2="210" stroke="#000" stroke-width="0.8" stroke-linecap="butt"/>
<line x1="145.88" y1="207.4" x2="145.88" y2="210" stroke="#000" stroke-width="0.8" stroke-linecap="butt"/>
<line x1="111.14" y1="207.4" x2="111.14" y2="210" stroke="#000" stroke-width="0.8" stroke-linecap="butt"/>
<line x1="107.99" y1="207.4" x2="107.99" y2="210" stroke="#000" stroke-width="0.8" stroke-linecap="butt"/>
<line x1="123.22" y1="207.4" x2="123.22" y2="210" stroke="#000" stroke-width="0.8" stroke-linecap="butt"/>
<line x1="139.38" y1="207.4" x2="139.38" y2="210" stroke="#000" stroke-width="0.8" stroke-linecap="butt"/>
<line x1="102.73" y1="207.4" x2="102.73" y2="210" stroke="#000" stroke-width="0.8" stroke-linecap="butt"/>
<line x1="116.26" y1="207.4" x2="116.26" y2="210" stroke="#000" stroke-width="0.8" stroke-linecap="butt"/>
<line x1="116.98" y1="207.4" x2="116.98" y2="210" stroke="#000" stroke-width="0.8" stroke-linecap="butt"/>
<line x1="147.7" y1="207.4" x2="147.7" y2="210" stroke="#000" stroke-width="0.8" stroke-linecap="butt"/>
<line x1="123.42" y1="207.4" x2="123.42" y2="210" stroke="#000" stroke-width="0.8" stroke-linecap="butt"/>
<line x1="149.06" y1="207.4" x2="149.06" y2="210" stroke="#000" stroke-width="0.8" stroke-linecap="butt"/>
<line x1="106.87" y1="207.4" x2="106.87" y2="210" stroke="#000" stroke-width="0.8" stroke-linecap="butt"/>
<line x1="117.16" y1="207.4" x2="117.16" y2="210" stroke="#000" stroke-width="0.8" stroke-linecap="butt"/>
<line x1="136.44" y1="207.4" x2="136.44" y2="210" stroke="#000" stroke-width="0.8" stroke-linecap="butt"/>
<line x1="55.96" y1="207.4" x2="55.96" y2="210" stroke="#000" stroke-width="0.8" stroke-linecap="butt"/>
<line x1="157.94" y1="207.4" x2="157.94" y2="210" stroke="#000" stroke-width="0.8" stroke-linecap="butt"/>
<line x1="74.12" y1="282.21" x2="74.12" y2="219.56" stroke="#2166AC" stroke-width="1.25" stroke-linecap="butt"/>
<line x1="72.62" y1="282.21" x2="75.62" y2="282.21" stroke="#2166AC" stroke-width="1.2" stroke-linecap="butt"/>
<line x1="72.62" y1="219.56" x2="75.62" y2="219.56" stroke="#2166AC" stroke-width="1.2" stroke-linecap="butt"/>
<line x1="116.47" y1="254.16" x2="116.47" y2="211.15" stroke="#2166AC" stroke-width="1.25" stroke-linecap="butt"/>
<line x1="114.97" y1="254.16" x2="117.97" y2="254.16" stroke="#2166AC" stroke-width="1.2" stroke-linecap="butt"/>
<line x1="114.97" y1="211.15" x2="117.97" y2="211.15" stroke="#2166AC" stroke-width="1.2" stroke-linecap="butt"/>
<line x1="131.95" y1="269.31" x2="131.95" y2="218.63" stroke="#2166AC" stroke-width="1.25" stroke-linecap="butt"/>
<line x1="130.45" y1="269.31" x2="133.45" y2="269.31" stroke="#2166AC" stroke-width="1.2" stroke-linecap="butt"/>
<line x1="130.45" y1="218.63" x2="133.45" y2="218.63" stroke="#2166AC" stroke-width="1.2" stroke-linecap="butt"/>
<line x1="141.17" y1="248.55" x2="141.17" y2="211.15" stroke="#2166AC" stroke-width="1.25" stroke-linecap="butt"/>
<line x1="139.67" y1="248.55" x2="142.67" y2="248.55" stroke="#2166AC" stroke-width="1.2" stroke-linecap="butt"/>
<line x1="139.67" y1="211.15" x2="142.67" y2="211.15" stroke="#2166AC" stroke-width="1.2" stroke-linecap="butt"/>
<line x1="149.83" y1="231.72" x2="149.83" y2="211.15" stroke="#2166AC" stroke-width="1.25" stroke-linecap="butt"/>
<line x1="148.33" y1="231.72" x2="151.33" y2="231.72" stroke="#2166AC" stroke-width="1.2" stroke-linecap="butt"/>
<line x1="148.33" y1="211.15" x2="151.33" y2="211.15" stroke="#2166AC" stroke-width="1.2" stroke-linecap="butt"/>
<g clip-path="url(#cE)">
<line x1="-6.91" y1="323.35" x2="188.67" y2="192.45" stroke="#E0E0E0" stroke-width="1.1" stroke-linecap="butt"/>
</g>
<line x1="75.94" y1="252.96" x2="114.65" y2="235.53" stroke="#2166AC" stroke-width="1.5" stroke-linecap="butt"/>
<line x1="118.06" y1="235.92" x2="130.36" y2="245.28" stroke="#2166AC" stroke-width="1.5" stroke-linecap="butt"/>
<line x1="133" y1="244.79" x2="140.12" y2="233.24" stroke="#2166AC" stroke-width="1.5" stroke-linecap="butt"/>
<line x1="142.41" y1="229.96" x2="148.6" y2="222.07" stroke="#2166AC" stroke-width="1.5" stroke-linecap="butt"/>
<circle cx="74.12" cy="253.79" r="0.9" fill="#2166AC"/>
<circle cx="116.47" cy="234.71" r="0.9" fill="#2166AC"/>
<circle cx="131.95" cy="246.49" r="0.9" fill="#2166AC"/>
<circle cx="141.17" cy="231.53" r="0.9" fill="#2166AC"/>
<circle cx="149.83" cy="220.5" r="0.9" fill="#2166AC"/>
<path d="M72.82,249.68L75.42,252.28M72.82,252.28L75.42,249.68M72.82,249.68L75.42,249.68M72.82,252.28L75.42,252.28" stroke="#2166AC" stroke-width="1.0" fill="none"/>
<path d="M115.17,232.48L117.77,235.08M115.17,235.08L117.77,232.48M115.17,232.48L117.77,232.48M115.17,235.08L117.77,235.08" stroke="#2166AC" stroke-width="1.0" fill="none"/>
<path d="M130.65,244.82L133.25,247.42M130.65,247.42L133.25,244.82M130.65,244.82L133.25,244.82M130.65,247.42L133.25,247.42" stroke="#2166AC" stroke-width="1.0" fill="none"/>
<path d="M139.87,229.3L142.47,231.9M139.87,231.9L142.47,229.3M139.87,229.3L142.47,229.3M139.87,231.9L142.47,231.9" stroke="#2166AC" stroke-width="1.0" fill="none"/>
<path d="M148.53,218.26L151.13,220.87M148.53,220.87L151.13,218.26M148.53,218.26L151.13,218.26M148.53,220.87L151.13,220.87" stroke="#2166AC" stroke-width="1.0" fill="none"/>
<line x1="100.4" y1="301.8" x2="111.2" y2="301.8" stroke="#2166AC" stroke-width="1.4" stroke-linecap="butt"/>
<text x="112.7" y="303.94" font-size="5.95" text-anchor="start" fill="#000" stroke="#000">The primary cohort</text>
<text x="191.2" y="186.27" font-size="11.4" fill="#000">F</text>
<text x="274.5" y="198.76" font-size="6.0" text-anchor="middle" fill="#000" stroke="#000">n = 75 d = 29 p = 1, 15 subjects per group, B = 1000</text>
<clipPath id="cF"><rect x="214.3" y="207.4" width="120.7" height="101"/></clipPath>
<rect x="214.3" y="207.4" width="120.7" height="101" fill="none" stroke="#000" stroke-width="1.3"/>
<line x1="210.3" y1="304.65" x2="214.3" y2="304.65" stroke="#000" stroke-width="1.2" stroke-linecap="butt"/>
<text transform="translate(205.1,304.65) rotate(-90)" x="0" y="2.12" font-size="5.9" text-anchor="middle" fill="#000" stroke="#000">0.0</text>
<line x1="210.3" y1="285.95" x2="214.3" y2="285.95" stroke="#000" stroke-width="1.2" stroke-linecap="butt"/>
<text transform="translate(205.1,285.95) rotate(-90)" x="0" y="2.12" font-size="5.9" text-anchor="middle" fill="#000" stroke="#000">0.2</text>
<line x1="210.3" y1="267.25" x2="214.3" y2="267.25" stroke="#000" stroke-width="1.2" stroke-linecap="butt"/>
<text transform="translate(205.1,267.25) rotate(-90)" x="0" y="2.12" font-size="5.9" text-anchor="middle" fill="#000" stroke="#000">0.4</text>
<line x1="210.3" y1="248.55" x2="214.3" y2="248.55" stroke="#000" stroke-width="1.2" stroke-linecap="butt"/>
<text transform="translate(205.1,248.55) rotate(-90)" x="0" y="2.12" font-size="5.9" text-anchor="middle" fill="#000" stroke="#000">0.6</text>
<line x1="210.3" y1="229.85" x2="214.3" y2="229.85" stroke="#000" stroke-width="1.2" stroke-linecap="butt"/>
<text transform="translate(205.1,229.85) rotate(-90)" x="0" y="2.12" font-size="5.9" text-anchor="middle" fill="#000" stroke="#000">0.8</text>
<line x1="210.3" y1="211.15" x2="214.3" y2="211.15" stroke="#000" stroke-width="1.2" stroke-linecap="butt"/>
<text transform="translate(205.1,211.15) rotate(-90)" x="0" y="2.12" font-size="5.9" text-anchor="middle" fill="#000" stroke="#000">1.0</text>
<line x1="218.77" y1="308.4" x2="218.77" y2="312.4" stroke="#000" stroke-width="1.2" stroke-linecap="butt"/>
<text x="218.77" y="320.12" font-size="5.9" text-anchor="middle" fill="#000" stroke="#000">0.2</text>
<line x1="234.74" y1="308.4" x2="234.74" y2="312.4" stroke="#000" stroke-width="1.2" stroke-linecap="butt"/>
<text x="234.74" y="320.12" font-size="5.9" text-anchor="middle" fill="#000" stroke="#000">0.3</text>
<line x1="250.7" y1="308.4" x2="250.7" y2="312.4" stroke="#000" stroke-width="1.2" stroke-linecap="butt"/>
<text x="250.7" y="320.12" font-size="5.9" text-anchor="middle" fill="#000" stroke="#000">0.4</text>
<line x1="266.67" y1="308.4" x2="266.67" y2="312.4" stroke="#000" stroke-width="1.2" stroke-linecap="butt"/>
<text x="266.67" y="320.12" font-size="5.9" text-anchor="middle" fill="#000" stroke="#000">0.5</text>
<line x1="282.63" y1="308.4" x2="282.63" y2="312.4" stroke="#000" stroke-width="1.2" stroke-linecap="butt"/>
<text x="282.63" y="320.12" font-size="5.9" text-anchor="middle" fill="#000" stroke="#000">0.6</text>
<line x1="298.6" y1="308.4" x2="298.6" y2="312.4" stroke="#000" stroke-width="1.2" stroke-linecap="butt"/>
<text x="298.6" y="320.12" font-size="5.9" text-anchor="middle" fill="#000" stroke="#000">0.7</text>
<line x1="314.56" y1="308.4" x2="314.56" y2="312.4" stroke="#000" stroke-width="1.2" stroke-linecap="butt"/>
<text x="314.56" y="320.12" font-size="5.9" text-anchor="middle" fill="#000" stroke="#000">0.8</text>
<line x1="330.53" y1="308.4" x2="330.53" y2="312.4" stroke="#000" stroke-width="1.2" stroke-linecap="butt"/>
<text x="330.53" y="320.12" font-size="5.9" text-anchor="middle" fill="#000" stroke="#000">0.9</text>
<text x="274.65" y="333.32" font-size="5.9" text-anchor="middle" fill="#000" stroke="#000">Nomogram−predicted 24−month AFS probability</text>
<text transform="translate(191.2,260.4) rotate(-90)" x="0" y="2.12" font-size="5.9" text-anchor="middle" fill="#000" stroke="#000">Actual 24−month AFS probability</text>
<line x1="305.12" y1="207.4" x2="305.12" y2="210" stroke="#000" stroke-width="0.8" stroke-linecap="butt"/>
<line x1="269.52" y1="207.4" x2="269.52" y2="210" stroke="#000" stroke-width="0.8" stroke-linecap="butt"/>
<line x1="250.97" y1="207.4" x2="250.97" y2="210" stroke="#000" stroke-width="0.8" stroke-linecap="butt"/>
<line x1="242.42" y1="207.4" x2="242.42" y2="210" stroke="#000" stroke-width="0.8" stroke-linecap="butt"/>
<line x1="275.96" y1="207.4" x2="275.96" y2="210" stroke="#000" stroke-width="0.8" stroke-linecap="butt"/>
<line x1="248.16" y1="207.4" x2="248.16" y2="210" stroke="#000" stroke-width="0.8" stroke-linecap="butt"/>
<line x1="298.71" y1="207.4" x2="298.71" y2="210" stroke="#000" stroke-width="0.8" stroke-linecap="butt"/>
<line x1="301.31" y1="207.4" x2="301.31" y2="210" stroke="#000" stroke-width="0.8" stroke-linecap="butt"/>
<line x1="247.57" y1="207.4" x2="247.57" y2="210" stroke="#000" stroke-width="0.8" stroke-linecap="butt"/>
<line x1="255.36" y1="207.4" x2="255.36" y2="210" stroke="#000" stroke-width="0.8" stroke-linecap="butt"/>
<line x1="298.74" y1="207.4" x2="298.74" y2="210" stroke="#000" stroke-width="0.8" stroke-linecap="butt"/>
<line x1="285.18" y1="207.4" x2="285.18" y2="210" stroke="#000" stroke-width="0.8" stroke-linecap="butt"/>
<line x1="298.67" y1="207.4" x2="298.67" y2="210" stroke="#000" stroke-width="0.8" stroke-linecap="butt"/>
<line x1="260.84" y1="207.4" x2="260.84" y2="210" stroke="#000" stroke-width="0.8" stroke-linecap="butt"/>
<line x1="243.14" y1="207.4" x2="243.14" y2="210" stroke="#000" stroke-width="0.8" stroke-linecap="butt"/>
<line x1="256.46" y1="207.4" x2="256.46" y2="210" stroke="#000" stroke-width="0.8" stroke-linecap="butt"/>
<line x1="297.65" y1="207.4" x2="297.65" y2="210" stroke="#000" stroke-width="0.8" stroke-linecap="butt"/>
<line x1="254.75" y1="207.4" x2="254.75" y2="210" stroke="#000" stroke-width="0.8" stroke-linecap="butt"/>
<line x1="260.92" y1="207.4" x2="260.92" y2="210" stroke="#000" stroke-width="0.8" stroke-linecap="butt"/>
<line x1="266.71" y1="207.4" x2="266.71" y2="210" stroke="#000" stroke-width="0.8" stroke-linecap="butt"/>
<line x1="266.95" y1="207.4" x2="266.95" y2="210" stroke="#000" stroke-width="0.8" stroke-linecap="butt"/>
<line x1="266.11" y1="207.4" x2="266.11" y2="210" stroke="#000" stroke-width="0.8" stroke-linecap="butt"/>
<line x1="308.05" y1="207.4" x2="308.05" y2="210" stroke="#000" stroke-width="0.8" stroke-linecap="butt"/>
<line x1="245.3" y1="207.4" x2="245.3" y2="210" stroke="#000" stroke-width="0.8" stroke-linecap="butt"/>
<line x1="232.88" y1="207.4" x2="232.88" y2="210" stroke="#000" stroke-width="0.8" stroke-linecap="butt"/>
<line x1="290.67" y1="207.4" x2="290.67" y2="210" stroke="#000" stroke-width="0.8" stroke-linecap="butt"/>
<line x1="288.95" y1="207.4" x2="288.95" y2="210" stroke="#000" stroke-width="0.8" stroke-linecap="butt"/>
<line x1="291.86" y1="207.4" x2="291.86" y2="210" stroke="#000" stroke-width="0.8" stroke-linecap="butt"/>
<line x1="276.86" y1="207.4" x2="276.86" y2="210" stroke="#000" stroke-width="0.8" stroke-linecap="butt"/>
<line x1="290.86" y1="207.4" x2="290.86" y2="210" stroke="#000" stroke-width="0.8" stroke-linecap="butt"/>
<line x1="290.24" y1="207.4" x2="290.24" y2="210" stroke="#000" stroke-width="0.8" stroke-linecap="butt"/>
<line x1="271.1" y1="207.4" x2="271.1" y2="210" stroke="#000" stroke-width="0.8" stroke-linecap="butt"/>
<line x1="285.31" y1="207.4" x2="285.31" y2="210" stroke="#000" stroke-width="0.8" stroke-linecap="butt"/>
<line x1="287.78" y1="207.4" x2="287.78" y2="210" stroke="#000" stroke-width="0.8" stroke-linecap="butt"/>
<line x1="283.07" y1="207.4" x2="283.07" y2="210" stroke="#000" stroke-width="0.8" stroke-linecap="butt"/>
<line x1="279.16" y1="207.4" x2="279.16" y2="210" stroke="#000" stroke-width="0.8" stroke-linecap="butt"/>
<line x1="272.92" y1="207.4" x2="272.92" y2="210" stroke="#000" stroke-width="0.8" stroke-linecap="butt"/>
<line x1="274.33" y1="207.4" x2="274.33" y2="210" stroke="#000" stroke-width="0.8" stroke-linecap="butt"/>
<line x1="271.24" y1="207.4" x2="271.24" y2="210" stroke="#000" stroke-width="0.8" stroke-linecap="butt"/>
<line x1="266.92" y1="207.4" x2="266.92" y2="210" stroke="#000" stroke-width="0.8" stroke-linecap="butt"/>
<line x1="281.05" y1="207.4" x2="281.05" y2="210" stroke="#000" stroke-width="0.8" stroke-linecap="butt"/>
<line x1="272.86" y1="207.4" x2="272.86" y2="210" stroke="#000" stroke-width="0.8" stroke-linecap="butt"/>
<line x1="287.06" y1="207.4" x2="287.06" y2="210" stroke="#000" stroke-width="0.8" stroke-linecap="butt"/>
<line x1="266.29" y1="207.4" x2="266.29" y2="210" stroke="#000" stroke-width="0.8" stroke-linecap="butt"/>
<line x1="289.6" y1="207.4" x2="289.6" y2="210" stroke="#000" stroke-width="0.8" stroke-linecap="butt"/>
<line x1="283.9" y1="207.4" x2="283.9" y2="210" stroke="#000" stroke-width="0.8" stroke-linecap="butt"/>
<line x1="290.15" y1="207.4" x2="290.15" y2="210" stroke="#000" stroke-width="0.8" stroke-linecap="butt"/>
<line x1="289.4" y1="207.4" x2="289.4" y2="210" stroke="#000" stroke-width="0.8" stroke-linecap="butt"/>
<line x1="289.49" y1="207.4" x2="289.49" y2="210" stroke="#000" stroke-width="0.8" stroke-linecap="butt"/>
<line x1="280.73" y1="207.4" x2="280.73" y2="210" stroke="#000" stroke-width="0.8" stroke-linecap="butt"/>
<line x1="265.43" y1="207.4" x2="265.43" y2="210" stroke="#000" stroke-width="0.8" stroke-linecap="butt"/>
<line x1="285.3" y1="207.4" x2="285.3" y2="210" stroke="#000" stroke-width="0.8" stroke-linecap="butt"/>
<line x1="269.73" y1="207.4" x2="269.73" y2="210" stroke="#000" stroke-width="0.8" stroke-linecap="butt"/>
<line x1="273.21" y1="207.4" x2="273.21" y2="210" stroke="#000" stroke-width="0.8" stroke-linecap="butt"/>
<line x1="283.06" y1="207.4" x2="283.06" y2="210" stroke="#000" stroke-width="0.8" stroke-linecap="butt"/>
<line x1="279.32" y1="207.4" x2="279.32" y2="210" stroke="#000" stroke-width="0.8" stroke-linecap="butt"/>
<line x1="276.3" y1="207.4" x2="276.3" y2="210" stroke="#000" stroke-width="0.8" stroke-linecap="butt"/>
<line x1="290.56" y1="207.4" x2="290.56" y2="210" stroke="#000" stroke-width="0.8" stroke-linecap="butt"/>
<line x1="281.69" y1="207.4" x2="281.69" y2="210" stroke="#000" stroke-width="0.8" stroke-linecap="butt"/>
<line x1="274.34" y1="207.4" x2="274.34" y2="210" stroke="#000" stroke-width="0.8" stroke-linecap="butt"/>
<line x1="271.92" y1="207.4" x2="271.92" y2="210" stroke="#000" stroke-width="0.8" stroke-linecap="butt"/>
<line x1="288.46" y1="207.4" x2="288.46" y2="210" stroke="#000" stroke-width="0.8" stroke-linecap="butt"/>
<line x1="278.02" y1="207.4" x2="278.02" y2="210" stroke="#000" stroke-width="0.8" stroke-linecap="butt"/>
<line x1="286.3" y1="207.4" x2="286.3" y2="210" stroke="#000" stroke-width="0.8" stroke-linecap="butt"/>
<line x1="274.62" y1="207.4" x2="274.62" y2="210" stroke="#000" stroke-width="0.8" stroke-linecap="butt"/>
<line x1="270.43" y1="207.4" x2="270.43" y2="210" stroke="#000" stroke-width="0.8" stroke-linecap="butt"/>
<line x1="279.58" y1="207.4" x2="279.58" y2="210" stroke="#000" stroke-width="0.8" stroke-linecap="butt"/>
<line x1="287.24" y1="207.4" x2="287.24" y2="210" stroke="#000" stroke-width="0.8" stroke-linecap="butt"/>
<line x1="269.72" y1="207.4" x2="269.72" y2="210" stroke="#000" stroke-width="0.8" stroke-linecap="butt"/>
<line x1="286.56" y1="207.4" x2="286.56" y2="210" stroke="#000" stroke-width="0.8" stroke-linecap="butt"/>
<line x1="232.5" y1="207.4" x2="232.5" y2="210" stroke="#000" stroke-width="0.8" stroke-linecap="butt"/>
<line x1="314.56" y1="207.4" x2="314.56" y2="210" stroke="#000" stroke-width="0.8" stroke-linecap="butt"/>
<line x1="252.78" y1="290.72" x2="252.78" y2="228.91" stroke="#B2182B" stroke-width="1.25" stroke-linecap="butt"/>
<line x1="251.28" y1="290.72" x2="254.28" y2="290.72" stroke="#B2182B" stroke-width="1.2" stroke-linecap="butt"/>
<line x1="251.28" y1="228.91" x2="254.28" y2="228.91" stroke="#B2182B" stroke-width="1.2" stroke-linecap="butt"/>
<line x1="272.26" y1="269.03" x2="272.26" y2="211.15" stroke="#B2182B" stroke-width="1.25" stroke-linecap="butt"/>
<line x1="270.76" y1="269.03" x2="273.76" y2="269.03" stroke="#B2182B" stroke-width="1.2" stroke-linecap="butt"/>
<line x1="270.76" y1="211.15" x2="273.76" y2="211.15" stroke="#B2182B" stroke-width="1.2" stroke-linecap="butt"/>
<line x1="281.04" y1="279.78" x2="281.04" y2="213.96" stroke="#B2182B" stroke-width="1.25" stroke-linecap="butt"/>
<line x1="279.54" y1="279.78" x2="282.54" y2="279.78" stroke="#B2182B" stroke-width="1.2" stroke-linecap="butt"/>
<line x1="279.54" y1="213.96" x2="282.54" y2="213.96" stroke="#B2182B" stroke-width="1.2" stroke-linecap="butt"/>
<line x1="289.02" y1="276.6" x2="289.02" y2="219.56" stroke="#B2182B" stroke-width="1.25" stroke-linecap="butt"/>
<line x1="287.52" y1="276.6" x2="290.52" y2="276.6" stroke="#B2182B" stroke-width="1.2" stroke-linecap="butt"/>
<line x1="287.52" y1="219.56" x2="290.52" y2="219.56" stroke="#B2182B" stroke-width="1.2" stroke-linecap="butt"/>
<line x1="300.99" y1="244.81" x2="300.99" y2="211.15" stroke="#B2182B" stroke-width="1.25" stroke-linecap="butt"/>
<line x1="299.49" y1="244.81" x2="302.49" y2="244.81" stroke="#B2182B" stroke-width="1.2" stroke-linecap="butt"/>
<line x1="299.49" y1="211.15" x2="302.49" y2="211.15" stroke="#B2182B" stroke-width="1.2" stroke-linecap="butt"/>
<g clip-path="url(#cF)">
<line x1="170.87" y1="314" x2="362.46" y2="201.8" stroke="#E0E0E0" stroke-width="1.1" stroke-linecap="butt"/>
</g>
<line x1="253.97" y1="269.85" x2="271.06" y2="246.88" stroke="#B2182B" stroke-width="1.5" stroke-linecap="butt"/>
<line x1="273.46" y1="246.88" x2="279.83" y2="255.37" stroke="#B2182B" stroke-width="1.5" stroke-linecap="butt"/>
<line x1="283.02" y1="257.2" x2="287.03" y2="257.67" stroke="#B2182B" stroke-width="1.5" stroke-linecap="butt"/>
<line x1="289.8" y1="256.06" x2="300.21" y2="231.69" stroke="#B2182B" stroke-width="1.5" stroke-linecap="butt"/>
<circle cx="252.78" cy="271.46" r="0.9" fill="#B2182B"/>
<circle cx="272.26" cy="245.28" r="0.9" fill="#B2182B"/>
<circle cx="281.04" cy="256.96" r="0.9" fill="#B2182B"/>
<circle cx="289.02" cy="257.9" r="0.9" fill="#B2182B"/>
<circle cx="300.99" cy="229.85" r="0.9" fill="#B2182B"/>
<circle cx="300.99" cy="227.05" r="0.9" fill="#B2182B"/>
<path d="M251.48,268.57L254.08,271.17M251.48,271.17L254.08,268.57M251.48,268.57L254.08,268.57M251.48,271.17L254.08,271.17" stroke="#2166AC" stroke-width="1.0" fill="none"/>
<path d="M270.96,243.7L273.56,246.3M270.96,246.3L273.56,243.7M270.96,243.7L273.56,243.7M270.96,246.3L273.56,246.3" stroke="#2166AC" stroke-width="1.0" fill="none"/>
<path d="M279.74,256.69L282.34,259.29M279.74,259.29L282.34,256.69M279.74,256.69L282.34,256.69M279.74,259.29L282.34,259.29" stroke="#2166AC" stroke-width="1.0" fill="none"/>
<path d="M287.72,257.25L290.32,259.85M287.72,259.85L290.32,257.25M287.72,257.25L290.32,257.25M287.72,259.85L290.32,259.85" stroke="#2166AC" stroke-width="1.0" fill="none"/>
<path d="M299.69,229.48L302.29,232.09M299.69,232.09L302.29,229.48M299.69,229.48L302.29,229.48M299.69,232.09L302.29,232.09" stroke="#2166AC" stroke-width="1.0" fill="none"/>
<line x1="266.7" y1="301.8" x2="277.5" y2="301.8" stroke="#B2182B" stroke-width="1.4" stroke-linecap="butt"/>
<text x="279" y="303.85" font-size="5.7" text-anchor="start" fill="#000" stroke="#000">The validation cohort</text>
<text x="359.9" y="186.27" font-size="11.4" fill="#000">G</text>
<text x="441" y="198.76" font-size="6.0" text-anchor="middle" fill="#000" stroke="#000">n = 174 d = 66 p = 4, 30 subjects per group, B = 1000</text>
<clipPath id="cG"><rect x="382.2" y="206.8" width="120.7" height="101"/></clipPath>
<rect x="382.2" y="206.8" width="120.7" height="101" fill="none" stroke="#000" stroke-width="1.3"/>
<line x1="378.2" y1="304.05" x2="382.2" y2="304.05" stroke="#000" stroke-width="1.2" stroke-linecap="butt"/>
<text transform="translate(373,304.05) rotate(-90)" x="0" y="2.12" font-size="5.9" text-anchor="middle" fill="#000" stroke="#000">0.5</text>
<line x1="378.2" y1="285.35" x2="382.2" y2="285.35" stroke="#000" stroke-width="1.2" stroke-linecap="butt"/>
<text transform="translate(373,285.35) rotate(-90)" x="0" y="2.12" font-size="5.9" text-anchor="middle" fill="#000" stroke="#000">0.6</text>
<line x1="378.2" y1="266.65" x2="382.2" y2="266.65" stroke="#000" stroke-width="1.2" stroke-linecap="butt"/>
<text transform="translate(373,266.65) rotate(-90)" x="0" y="2.12" font-size="5.9" text-anchor="middle" fill="#000" stroke="#000">0.7</text>
<line x1="378.2" y1="247.95" x2="382.2" y2="247.95" stroke="#000" stroke-width="1.2" stroke-linecap="butt"/>
<text transform="translate(373,247.95) rotate(-90)" x="0" y="2.12" font-size="5.9" text-anchor="middle" fill="#000" stroke="#000">0.8</text>
<line x1="378.2" y1="229.25" x2="382.2" y2="229.25" stroke="#000" stroke-width="1.2" stroke-linecap="butt"/>
<text transform="translate(373,229.25) rotate(-90)" x="0" y="2.12" font-size="5.9" text-anchor="middle" fill="#000" stroke="#000">0.9</text>
<line x1="378.2" y1="210.55" x2="382.2" y2="210.55" stroke="#000" stroke-width="1.2" stroke-linecap="butt"/>
<text transform="translate(373,210.55) rotate(-90)" x="0" y="2.12" font-size="5.9" text-anchor="middle" fill="#000" stroke="#000">1.0</text>
<line x1="386.67" y1="307.8" x2="386.67" y2="311.8" stroke="#000" stroke-width="1.2" stroke-linecap="butt"/>
<text x="386.67" y="320.12" font-size="5.9" text-anchor="middle" fill="#000" stroke="#000">0.6</text>
<line x1="414.61" y1="307.8" x2="414.61" y2="311.8" stroke="#000" stroke-width="1.2" stroke-linecap="butt"/>
<text x="414.61" y="320.12" font-size="5.9" text-anchor="middle" fill="#000" stroke="#000">0.7</text>
<line x1="442.55" y1="307.8" x2="442.55" y2="311.8" stroke="#000" stroke-width="1.2" stroke-linecap="butt"/>
<text x="442.55" y="320.12" font-size="5.9" text-anchor="middle" fill="#000" stroke="#000">0.8</text>
<line x1="470.49" y1="307.8" x2="470.49" y2="311.8" stroke="#000" stroke-width="1.2" stroke-linecap="butt"/>
<text x="470.49" y="320.12" font-size="5.9" text-anchor="middle" fill="#000" stroke="#000">0.9</text>
<line x1="498.43" y1="307.8" x2="498.43" y2="311.8" stroke="#000" stroke-width="1.2" stroke-linecap="butt"/>
<text x="498.43" y="320.12" font-size="5.9" text-anchor="middle" fill="#000" stroke="#000">1.0</text>
<text x="442.55" y="333.32" font-size="5.9" text-anchor="middle" fill="#000" stroke="#000">Nomogram−predicted 30−month AFS probability</text>
<text transform="translate(359.1,259.8) rotate(-90)" x="0" y="2.12" font-size="5.9" text-anchor="middle" fill="#000" stroke="#000">Actual 30−month AFS probability</text>
<line x1="486.03" y1="206.8" x2="486.03" y2="209.4" stroke="#000" stroke-width="0.8" stroke-linecap="butt"/>
<line x1="473.07" y1="206.8" x2="473.07" y2="209.4" stroke="#000" stroke-width="0.8" stroke-linecap="butt"/>
<line x1="475.02" y1="206.8" x2="475.02" y2="209.4" stroke="#000" stroke-width="0.8" stroke-linecap="butt"/>
<line x1="383.6" y1="206.8" x2="383.6" y2="209.4" stroke="#000" stroke-width="0.8" stroke-linecap="butt"/>
<line x1="453.19" y1="206.8" x2="453.19" y2="209.4" stroke="#000" stroke-width="0.8" stroke-linecap="butt"/>
<line x1="479.4" y1="206.8" x2="479.4" y2="209.4" stroke="#000" stroke-width="0.8" stroke-linecap="butt"/>
<line x1="388.35" y1="206.8" x2="388.35" y2="209.4" stroke="#000" stroke-width="0.8" stroke-linecap="butt"/>
<line x1="413.17" y1="206.8" x2="413.17" y2="209.4" stroke="#000" stroke-width="0.8" stroke-linecap="butt"/>
<line x1="412.85" y1="206.8" x2="412.85" y2="209.4" stroke="#000" stroke-width="0.8" stroke-linecap="butt"/>
<line x1="441.83" y1="206.8" x2="441.83" y2="209.4" stroke="#000" stroke-width="0.8" stroke-linecap="butt"/>
<line x1="430.15" y1="206.8" x2="430.15" y2="209.4" stroke="#000" stroke-width="0.8" stroke-linecap="butt"/>
<line x1="435.74" y1="206.8" x2="435.74" y2="209.4" stroke="#000" stroke-width="0.8" stroke-linecap="butt"/>
<line x1="469.76" y1="206.8" x2="469.76" y2="209.4" stroke="#000" stroke-width="0.8" stroke-linecap="butt"/>
<line x1="382.96" y1="206.8" x2="382.96" y2="209.4" stroke="#000" stroke-width="0.8" stroke-linecap="butt"/>
<line x1="388.9" y1="206.8" x2="388.9" y2="209.4" stroke="#000" stroke-width="0.8" stroke-linecap="butt"/>
<line x1="396.97" y1="206.8" x2="396.97" y2="209.4" stroke="#000" stroke-width="0.8" stroke-linecap="butt"/>
<line x1="396.72" y1="206.8" x2="396.72" y2="209.4" stroke="#000" stroke-width="0.8" stroke-linecap="butt"/>
<line x1="390.42" y1="206.8" x2="390.42" y2="209.4" stroke="#000" stroke-width="0.8" stroke-linecap="butt"/>
<line x1="491.96" y1="206.8" x2="491.96" y2="209.4" stroke="#000" stroke-width="0.8" stroke-linecap="butt"/>
<line x1="478.49" y1="206.8" x2="478.49" y2="209.4" stroke="#000" stroke-width="0.8" stroke-linecap="butt"/>
<line x1="392.41" y1="206.8" x2="392.41" y2="209.4" stroke="#000" stroke-width="0.8" stroke-linecap="butt"/>
<line x1="439.02" y1="206.8" x2="439.02" y2="209.4" stroke="#000" stroke-width="0.8" stroke-linecap="butt"/>
<line x1="418.15" y1="206.8" x2="418.15" y2="209.4" stroke="#000" stroke-width="0.8" stroke-linecap="butt"/>
<line x1="418" y1="206.8" x2="418" y2="209.4" stroke="#000" stroke-width="0.8" stroke-linecap="butt"/>
<line x1="422.12" y1="206.8" x2="422.12" y2="209.4" stroke="#000" stroke-width="0.8" stroke-linecap="butt"/>
<line x1="455.24" y1="206.8" x2="455.24" y2="209.4" stroke="#000" stroke-width="0.8" stroke-linecap="butt"/>
<line x1="448.48" y1="206.8" x2="448.48" y2="209.4" stroke="#000" stroke-width="0.8" stroke-linecap="butt"/>
<line x1="423.19" y1="206.8" x2="423.19" y2="209.4" stroke="#000" stroke-width="0.8" stroke-linecap="butt"/>
<line x1="404.17" y1="206.8" x2="404.17" y2="209.4" stroke="#000" stroke-width="0.8" stroke-linecap="butt"/>
<line x1="419.59" y1="206.8" x2="419.59" y2="209.4" stroke="#000" stroke-width="0.8" stroke-linecap="butt"/>
<line x1="396.62" y1="206.8" x2="396.62" y2="209.4" stroke="#000" stroke-width="0.8" stroke-linecap="butt"/>
<line x1="445" y1="206.8" x2="445" y2="209.4" stroke="#000" stroke-width="0.8" stroke-linecap="butt"/>
<line x1="462.98" y1="206.8" x2="462.98" y2="209.4" stroke="#000" stroke-width="0.8" stroke-linecap="butt"/>
<line x1="425.36" y1="206.8" x2="425.36" y2="209.4" stroke="#000" stroke-width="0.8" stroke-linecap="butt"/>
<line x1="391.71" y1="206.8" x2="391.71" y2="209.4" stroke="#000" stroke-width="0.8" stroke-linecap="butt"/>
<line x1="438.11" y1="206.8" x2="438.11" y2="209.4" stroke="#000" stroke-width="0.8" stroke-linecap="butt"/>
<line x1="451.55" y1="206.8" x2="451.55" y2="209.4" stroke="#000" stroke-width="0.8" stroke-linecap="butt"/>
<line x1="467.5" y1="206.8" x2="467.5" y2="209.4" stroke="#000" stroke-width="0.8" stroke-linecap="butt"/>
<line x1="479.8" y1="206.8" x2="479.8" y2="209.4" stroke="#000" stroke-width="0.8" stroke-linecap="butt"/>
<line x1="452.03" y1="206.8" x2="452.03" y2="209.4" stroke="#000" stroke-width="0.8" stroke-linecap="butt"/>
<line x1="481.08" y1="206.8" x2="481.08" y2="209.4" stroke="#000" stroke-width="0.8" stroke-linecap="butt"/>
<line x1="468.78" y1="206.8" x2="468.78" y2="209.4" stroke="#000" stroke-width="0.8" stroke-linecap="butt"/>
<line x1="455.57" y1="206.8" x2="455.57" y2="209.4" stroke="#000" stroke-width="0.8" stroke-linecap="butt"/>
<line x1="451.49" y1="206.8" x2="451.49" y2="209.4" stroke="#000" stroke-width="0.8" stroke-linecap="butt"/>
<line x1="460.03" y1="206.8" x2="460.03" y2="209.4" stroke="#000" stroke-width="0.8" stroke-linecap="butt"/>
<line x1="474.29" y1="206.8" x2="474.29" y2="209.4" stroke="#000" stroke-width="0.8" stroke-linecap="butt"/>
<line x1="454.81" y1="206.8" x2="454.81" y2="209.4" stroke="#000" stroke-width="0.8" stroke-linecap="butt"/>
<line x1="473.69" y1="206.8" x2="473.69" y2="209.4" stroke="#000" stroke-width="0.8" stroke-linecap="butt"/>
<line x1="457.59" y1="206.8" x2="457.59" y2="209.4" stroke="#000" stroke-width="0.8" stroke-linecap="butt"/>
<line x1="442.7" y1="206.8" x2="442.7" y2="209.4" stroke="#000" stroke-width="0.8" stroke-linecap="butt"/>
<line x1="462.77" y1="206.8" x2="462.77" y2="209.4" stroke="#000" stroke-width="0.8" stroke-linecap="butt"/>
<line x1="473.76" y1="206.8" x2="473.76" y2="209.4" stroke="#000" stroke-width="0.8" stroke-linecap="butt"/>
<line x1="430.73" y1="206.8" x2="430.73" y2="209.4" stroke="#000" stroke-width="0.8" stroke-linecap="butt"/>
<line x1="455.11" y1="206.8" x2="455.11" y2="209.4" stroke="#000" stroke-width="0.8" stroke-linecap="butt"/>
<line x1="455.18" y1="206.8" x2="455.18" y2="209.4" stroke="#000" stroke-width="0.8" stroke-linecap="butt"/>
<line x1="486.49" y1="206.8" x2="486.49" y2="209.4" stroke="#000" stroke-width="0.8" stroke-linecap="butt"/>
<line x1="490.41" y1="206.8" x2="490.41" y2="209.4" stroke="#000" stroke-width="0.8" stroke-linecap="butt"/>
<line x1="451.61" y1="206.8" x2="451.61" y2="209.4" stroke="#000" stroke-width="0.8" stroke-linecap="butt"/>
<line x1="487.75" y1="206.8" x2="487.75" y2="209.4" stroke="#000" stroke-width="0.8" stroke-linecap="butt"/>
<line x1="480.37" y1="206.8" x2="480.37" y2="209.4" stroke="#000" stroke-width="0.8" stroke-linecap="butt"/>
<line x1="443.88" y1="206.8" x2="443.88" y2="209.4" stroke="#000" stroke-width="0.8" stroke-linecap="butt"/>
<line x1="457.82" y1="206.8" x2="457.82" y2="209.4" stroke="#000" stroke-width="0.8" stroke-linecap="butt"/>
<line x1="434.28" y1="206.8" x2="434.28" y2="209.4" stroke="#000" stroke-width="0.8" stroke-linecap="butt"/>
<line x1="481.91" y1="206.8" x2="481.91" y2="209.4" stroke="#000" stroke-width="0.8" stroke-linecap="butt"/>
<line x1="471.49" y1="206.8" x2="471.49" y2="209.4" stroke="#000" stroke-width="0.8" stroke-linecap="butt"/>
<line x1="487.02" y1="206.8" x2="487.02" y2="209.4" stroke="#000" stroke-width="0.8" stroke-linecap="butt"/>
<line x1="480.48" y1="206.8" x2="480.48" y2="209.4" stroke="#000" stroke-width="0.8" stroke-linecap="butt"/>
<line x1="471.86" y1="206.8" x2="471.86" y2="209.4" stroke="#000" stroke-width="0.8" stroke-linecap="butt"/>
<line x1="476.42" y1="206.8" x2="476.42" y2="209.4" stroke="#000" stroke-width="0.8" stroke-linecap="butt"/>
<line x1="464.7" y1="206.8" x2="464.7" y2="209.4" stroke="#000" stroke-width="0.8" stroke-linecap="butt"/>
<line x1="432.9" y1="206.8" x2="432.9" y2="209.4" stroke="#000" stroke-width="0.8" stroke-linecap="butt"/>
<line x1="466.35" y1="206.8" x2="466.35" y2="209.4" stroke="#000" stroke-width="0.8" stroke-linecap="butt"/>
<line x1="426.12" y1="206.8" x2="426.12" y2="209.4" stroke="#000" stroke-width="0.8" stroke-linecap="butt"/>
<line x1="435.69" y1="206.8" x2="435.69" y2="209.4" stroke="#000" stroke-width="0.8" stroke-linecap="butt"/>
<line x1="479.22" y1="206.8" x2="479.22" y2="209.4" stroke="#000" stroke-width="0.8" stroke-linecap="butt"/>
<line x1="428.84" y1="206.8" x2="428.84" y2="209.4" stroke="#000" stroke-width="0.8" stroke-linecap="butt"/>
<line x1="432.12" y1="206.8" x2="432.12" y2="209.4" stroke="#000" stroke-width="0.8" stroke-linecap="butt"/>
<line x1="432.64" y1="206.8" x2="432.64" y2="209.4" stroke="#000" stroke-width="0.8" stroke-linecap="butt"/>
<line x1="486.55" y1="206.8" x2="486.55" y2="209.4" stroke="#000" stroke-width="0.8" stroke-linecap="butt"/>
<line x1="438.15" y1="206.8" x2="438.15" y2="209.4" stroke="#000" stroke-width="0.8" stroke-linecap="butt"/>
<line x1="427.41" y1="206.8" x2="427.41" y2="209.4" stroke="#000" stroke-width="0.8" stroke-linecap="butt"/>
<line x1="483.86" y1="206.8" x2="483.86" y2="209.4" stroke="#000" stroke-width="0.8" stroke-linecap="butt"/>
<line x1="434.16" y1="206.8" x2="434.16" y2="209.4" stroke="#000" stroke-width="0.8" stroke-linecap="butt"/>
<line x1="484.03" y1="206.8" x2="484.03" y2="209.4" stroke="#000" stroke-width="0.8" stroke-linecap="butt"/>
<line x1="472.27" y1="206.8" x2="472.27" y2="209.4" stroke="#000" stroke-width="0.8" stroke-linecap="butt"/>
<line x1="483.49" y1="206.8" x2="483.49" y2="209.4" stroke="#000" stroke-width="0.8" stroke-linecap="butt"/>
<line x1="491.51" y1="206.8" x2="491.51" y2="209.4" stroke="#000" stroke-width="0.8" stroke-linecap="butt"/>
<line x1="465.75" y1="206.8" x2="465.75" y2="209.4" stroke="#000" stroke-width="0.8" stroke-linecap="butt"/>
<line x1="480.91" y1="206.8" x2="480.91" y2="209.4" stroke="#000" stroke-width="0.8" stroke-linecap="butt"/>
<line x1="428.29" y1="206.8" x2="428.29" y2="209.4" stroke="#000" stroke-width="0.8" stroke-linecap="butt"/>
<line x1="478.75" y1="206.8" x2="478.75" y2="209.4" stroke="#000" stroke-width="0.8" stroke-linecap="butt"/>
<line x1="461.07" y1="206.8" x2="461.07" y2="209.4" stroke="#000" stroke-width="0.8" stroke-linecap="butt"/>
<line x1="475.14" y1="206.8" x2="475.14" y2="209.4" stroke="#000" stroke-width="0.8" stroke-linecap="butt"/>
<line x1="433.15" y1="206.8" x2="433.15" y2="209.4" stroke="#000" stroke-width="0.8" stroke-linecap="butt"/>
<line x1="477.47" y1="206.8" x2="477.47" y2="209.4" stroke="#000" stroke-width="0.8" stroke-linecap="butt"/>
<line x1="490.28" y1="206.8" x2="490.28" y2="209.4" stroke="#000" stroke-width="0.8" stroke-linecap="butt"/>
<line x1="430.01" y1="206.8" x2="430.01" y2="209.4" stroke="#000" stroke-width="0.8" stroke-linecap="butt"/>
<line x1="448.16" y1="206.8" x2="448.16" y2="209.4" stroke="#000" stroke-width="0.8" stroke-linecap="butt"/>
<line x1="464.71" y1="206.8" x2="464.71" y2="209.4" stroke="#000" stroke-width="0.8" stroke-linecap="butt"/>
<line x1="482.93" y1="206.8" x2="482.93" y2="209.4" stroke="#000" stroke-width="0.8" stroke-linecap="butt"/>
<line x1="442.5" y1="206.8" x2="442.5" y2="209.4" stroke="#000" stroke-width="0.8" stroke-linecap="butt"/>
<line x1="438.19" y1="206.8" x2="438.19" y2="209.4" stroke="#000" stroke-width="0.8" stroke-linecap="butt"/>
<line x1="443.04" y1="206.8" x2="443.04" y2="209.4" stroke="#000" stroke-width="0.8" stroke-linecap="butt"/>
<line x1="468.3" y1="206.8" x2="468.3" y2="209.4" stroke="#000" stroke-width="0.8" stroke-linecap="butt"/>
<line x1="477.79" y1="206.8" x2="477.79" y2="209.4" stroke="#000" stroke-width="0.8" stroke-linecap="butt"/>
<line x1="452.96" y1="206.8" x2="452.96" y2="209.4" stroke="#000" stroke-width="0.8" stroke-linecap="butt"/>
<line x1="451.15" y1="206.8" x2="451.15" y2="209.4" stroke="#000" stroke-width="0.8" stroke-linecap="butt"/>
<line x1="453.16" y1="206.8" x2="453.16" y2="209.4" stroke="#000" stroke-width="0.8" stroke-linecap="butt"/>
<line x1="449.96" y1="206.8" x2="449.96" y2="209.4" stroke="#000" stroke-width="0.8" stroke-linecap="butt"/>
<line x1="454.65" y1="206.8" x2="454.65" y2="209.4" stroke="#000" stroke-width="0.8" stroke-linecap="butt"/>
<line x1="431.53" y1="206.8" x2="431.53" y2="209.4" stroke="#000" stroke-width="0.8" stroke-linecap="butt"/>
<line x1="460.31" y1="206.8" x2="460.31" y2="209.4" stroke="#000" stroke-width="0.8" stroke-linecap="butt"/>
<line x1="492.94" y1="206.8" x2="492.94" y2="209.4" stroke="#000" stroke-width="0.8" stroke-linecap="butt"/>
<line x1="454.28" y1="206.8" x2="454.28" y2="209.4" stroke="#000" stroke-width="0.8" stroke-linecap="butt"/>
<line x1="477.37" y1="206.8" x2="477.37" y2="209.4" stroke="#000" stroke-width="0.8" stroke-linecap="butt"/>
<line x1="436.87" y1="206.8" x2="436.87" y2="209.4" stroke="#000" stroke-width="0.8" stroke-linecap="butt"/>
<line x1="473.46" y1="206.8" x2="473.46" y2="209.4" stroke="#000" stroke-width="0.8" stroke-linecap="butt"/>
<line x1="477.97" y1="206.8" x2="477.97" y2="209.4" stroke="#000" stroke-width="0.8" stroke-linecap="butt"/>
<line x1="472.29" y1="206.8" x2="472.29" y2="209.4" stroke="#000" stroke-width="0.8" stroke-linecap="butt"/>
<line x1="461.47" y1="206.8" x2="461.47" y2="209.4" stroke="#000" stroke-width="0.8" stroke-linecap="butt"/>
<line x1="459.17" y1="206.8" x2="459.17" y2="209.4" stroke="#000" stroke-width="0.8" stroke-linecap="butt"/>
<line x1="470.16" y1="206.8" x2="470.16" y2="209.4" stroke="#000" stroke-width="0.8" stroke-linecap="butt"/>
<line x1="487.72" y1="206.8" x2="487.72" y2="209.4" stroke="#000" stroke-width="0.8" stroke-linecap="butt"/>
<line x1="436.09" y1="206.8" x2="436.09" y2="209.4" stroke="#000" stroke-width="0.8" stroke-linecap="butt"/>
<line x1="432.4" y1="206.8" x2="432.4" y2="209.4" stroke="#000" stroke-width="0.8" stroke-linecap="butt"/>
<line x1="477.42" y1="206.8" x2="477.42" y2="209.4" stroke="#000" stroke-width="0.8" stroke-linecap="butt"/>
<line x1="489.04" y1="206.8" x2="489.04" y2="209.4" stroke="#000" stroke-width="0.8" stroke-linecap="butt"/>
<line x1="461.48" y1="206.8" x2="461.48" y2="209.4" stroke="#000" stroke-width="0.8" stroke-linecap="butt"/>
<line x1="456.36" y1="206.8" x2="456.36" y2="209.4" stroke="#000" stroke-width="0.8" stroke-linecap="butt"/>
<line x1="475.4" y1="206.8" x2="475.4" y2="209.4" stroke="#000" stroke-width="0.8" stroke-linecap="butt"/>
<line x1="438.63" y1="206.8" x2="438.63" y2="209.4" stroke="#000" stroke-width="0.8" stroke-linecap="butt"/>
<line x1="444.24" y1="206.8" x2="444.24" y2="209.4" stroke="#000" stroke-width="0.8" stroke-linecap="butt"/>
<line x1="439.53" y1="206.8" x2="439.53" y2="209.4" stroke="#000" stroke-width="0.8" stroke-linecap="butt"/>
<line x1="466.2" y1="206.8" x2="466.2" y2="209.4" stroke="#000" stroke-width="0.8" stroke-linecap="butt"/>
<line x1="447.51" y1="206.8" x2="447.51" y2="209.4" stroke="#000" stroke-width="0.8" stroke-linecap="butt"/>
<line x1="441.82" y1="206.8" x2="441.82" y2="209.4" stroke="#000" stroke-width="0.8" stroke-linecap="butt"/>
<line x1="473.48" y1="206.8" x2="473.48" y2="209.4" stroke="#000" stroke-width="0.8" stroke-linecap="butt"/>
<line x1="491.58" y1="206.8" x2="491.58" y2="209.4" stroke="#000" stroke-width="0.8" stroke-linecap="butt"/>
<line x1="446.2" y1="206.8" x2="446.2" y2="209.4" stroke="#000" stroke-width="0.8" stroke-linecap="butt"/>
<line x1="474.46" y1="206.8" x2="474.46" y2="209.4" stroke="#000" stroke-width="0.8" stroke-linecap="butt"/>
<line x1="454.3" y1="206.8" x2="454.3" y2="209.4" stroke="#000" stroke-width="0.8" stroke-linecap="butt"/>
<line x1="484.7" y1="206.8" x2="484.7" y2="209.4" stroke="#000" stroke-width="0.8" stroke-linecap="butt"/>
<line x1="466.13" y1="206.8" x2="466.13" y2="209.4" stroke="#000" stroke-width="0.8" stroke-linecap="butt"/>
<line x1="444.22" y1="206.8" x2="444.22" y2="209.4" stroke="#000" stroke-width="0.8" stroke-linecap="butt"/>
<line x1="440.8" y1="206.8" x2="440.8" y2="209.4" stroke="#000" stroke-width="0.8" stroke-linecap="butt"/>
<line x1="427.38" y1="206.8" x2="427.38" y2="209.4" stroke="#000" stroke-width="0.8" stroke-linecap="butt"/>
<line x1="458.88" y1="206.8" x2="458.88" y2="209.4" stroke="#000" stroke-width="0.8" stroke-linecap="butt"/>
<line x1="452.2" y1="206.8" x2="452.2" y2="209.4" stroke="#000" stroke-width="0.8" stroke-linecap="butt"/>
<line x1="437.67" y1="206.8" x2="437.67" y2="209.4" stroke="#000" stroke-width="0.8" stroke-linecap="butt"/>
<line x1="450.66" y1="206.8" x2="450.66" y2="209.4" stroke="#000" stroke-width="0.8" stroke-linecap="butt"/>
<line x1="448.01" y1="206.8" x2="448.01" y2="209.4" stroke="#000" stroke-width="0.8" stroke-linecap="butt"/>
<line x1="479.22" y1="206.8" x2="479.22" y2="209.4" stroke="#000" stroke-width="0.8" stroke-linecap="butt"/>
<line x1="435.7" y1="206.8" x2="435.7" y2="209.4" stroke="#000" stroke-width="0.8" stroke-linecap="butt"/>
<line x1="494.19" y1="206.8" x2="494.19" y2="209.4" stroke="#000" stroke-width="0.8" stroke-linecap="butt"/>
<line x1="458.88" y1="206.8" x2="458.88" y2="209.4" stroke="#000" stroke-width="0.8" stroke-linecap="butt"/>
<line x1="382.76" y1="206.8" x2="382.76" y2="209.4" stroke="#000" stroke-width="0.8" stroke-linecap="butt"/>
<line x1="494.8" y1="206.8" x2="494.8" y2="209.4" stroke="#000" stroke-width="0.8" stroke-linecap="butt"/>
<line x1="398.4" y1="291.89" x2="398.4" y2="224.57" stroke="#2166AC" stroke-width="1.25" stroke-linecap="butt"/>
<line x1="396.9" y1="291.89" x2="399.9" y2="291.89" stroke="#2166AC" stroke-width="1.2" stroke-linecap="butt"/>
<line x1="396.9" y1="224.57" x2="399.9" y2="224.57" stroke="#2166AC" stroke-width="1.2" stroke-linecap="butt"/>
<line x1="445.34" y1="254.49" x2="445.34" y2="210.55" stroke="#2166AC" stroke-width="1.25" stroke-linecap="butt"/>
<line x1="443.84" y1="254.49" x2="446.84" y2="254.49" stroke="#2166AC" stroke-width="1.2" stroke-linecap="butt"/>
<line x1="443.84" y1="210.55" x2="446.84" y2="210.55" stroke="#2166AC" stroke-width="1.2" stroke-linecap="butt"/>
<line x1="463.78" y1="280.3" x2="463.78" y2="221.77" stroke="#2166AC" stroke-width="1.25" stroke-linecap="butt"/>
<line x1="462.28" y1="280.3" x2="465.28" y2="280.3" stroke="#2166AC" stroke-width="1.2" stroke-linecap="butt"/>
<line x1="462.28" y1="221.77" x2="465.28" y2="221.77" stroke="#2166AC" stroke-width="1.2" stroke-linecap="butt"/>
<line x1="474.4" y1="261.41" x2="474.4" y2="210.55" stroke="#2166AC" stroke-width="1.25" stroke-linecap="butt"/>
<line x1="472.9" y1="261.41" x2="475.9" y2="261.41" stroke="#2166AC" stroke-width="1.2" stroke-linecap="butt"/>
<line x1="472.9" y1="210.55" x2="475.9" y2="210.55" stroke="#2166AC" stroke-width="1.2" stroke-linecap="butt"/>
<line x1="485.3" y1="231.12" x2="485.3" y2="210.55" stroke="#2166AC" stroke-width="1.25" stroke-linecap="butt"/>
<line x1="483.8" y1="231.12" x2="486.8" y2="231.12" stroke="#2166AC" stroke-width="1.2" stroke-linecap="butt"/>
<line x1="483.8" y1="210.55" x2="486.8" y2="210.55" stroke="#2166AC" stroke-width="1.2" stroke-linecap="butt"/>
<g clip-path="url(#cG)">
<line x1="330.79" y1="322.75" x2="526.37" y2="191.85" stroke="#E0E0E0" stroke-width="1.1" stroke-linecap="butt"/>
</g>
<line x1="400.12" y1="260.95" x2="443.63" y2="234.95" stroke="#2166AC" stroke-width="1.5" stroke-linecap="butt"/>
<line x1="446.68" y1="235.41" x2="462.45" y2="253.01" stroke="#2166AC" stroke-width="1.5" stroke-linecap="butt"/>
<line x1="464.85" y1="252.8" x2="473.33" y2="239.36" stroke="#2166AC" stroke-width="1.5" stroke-linecap="butt"/>
<line x1="475.49" y1="235.99" x2="484.21" y2="222.51" stroke="#2166AC" stroke-width="1.5" stroke-linecap="butt"/>
<circle cx="398.4" cy="261.97" r="0.9" fill="#2166AC"/>
<circle cx="445.34" cy="233.93" r="0.9" fill="#2166AC"/>
<circle cx="463.78" cy="254.49" r="0.9" fill="#2166AC"/>
<circle cx="474.4" cy="237.66" r="0.9" fill="#2166AC"/>
<circle cx="485.3" cy="220.84" r="0.9" fill="#2166AC"/>
<path d="M397.1,256.94L399.7,259.54M397.1,259.54L399.7,256.94M397.1,256.94L399.7,256.94M397.1,259.54L399.7,259.54" stroke="#2166AC" stroke-width="1.0" fill="none"/>
<path d="M444.04,232.06L446.64,234.66M444.04,234.66L446.64,232.06M444.04,232.06L446.64,232.06M444.04,234.66L446.64,234.66" stroke="#2166AC" stroke-width="1.0" fill="none"/>
<path d="M462.48,252.63L465.08,255.23M462.48,255.23L465.08,252.63M462.48,252.63L465.08,252.63M462.48,255.23L465.08,255.23" stroke="#2166AC" stroke-width="1.0" fill="none"/>
<path d="M473.1,240.1L475.7,242.71M473.1,242.71L475.7,240.1M473.1,240.1L475.7,240.1M473.1,242.71L475.7,242.71" stroke="#2166AC" stroke-width="1.0" fill="none"/>
<path d="M484,218.23L486.6,220.83M484,220.83L486.6,218.23M484,218.23L486.6,218.23M484,220.83L486.6,220.83" stroke="#2166AC" stroke-width="1.0" fill="none"/>
<line x1="435" y1="300.7" x2="445.8" y2="300.7" stroke="#2166AC" stroke-width="1.4" stroke-linecap="butt"/>
<text x="447.3" y="302.86" font-size="6.0" text-anchor="start" fill="#000" stroke="#000">The primary cohort</text>
<text x="528" y="186.27" font-size="11.4" fill="#000">H</text>
<text x="610.9" y="198.76" font-size="6.0" text-anchor="middle" fill="#000" stroke="#000">n = 75 d = 29 p = 1, 15 subjects per group, B = 1000</text>
<clipPath id="cH"><rect x="551.6" y="206.8" width="120.3" height="101"/></clipPath>
<rect x="551.6" y="206.8" width="120.3" height="101" fill="none" stroke="#000" stroke-width="1.3"/>
<line x1="547.6" y1="304.05" x2="551.6" y2="304.05" stroke="#000" stroke-width="1.2" stroke-linecap="butt"/>
<text transform="translate(542.4,304.05) rotate(-90)" x="0" y="2.12" font-size="5.9" text-anchor="middle" fill="#000" stroke="#000">0.0</text>
<line x1="547.6" y1="285.35" x2="551.6" y2="285.35" stroke="#000" stroke-width="1.2" stroke-linecap="butt"/>
<text transform="translate(542.4,285.35) rotate(-90)" x="0" y="2.12" font-size="5.9" text-anchor="middle" fill="#000" stroke="#000">0.2</text>
<line x1="547.6" y1="266.65" x2="551.6" y2="266.65" stroke="#000" stroke-width="1.2" stroke-linecap="butt"/>
<text transform="translate(542.4,266.65) rotate(-90)" x="0" y="2.12" font-size="5.9" text-anchor="middle" fill="#000" stroke="#000">0.4</text>
<line x1="547.6" y1="247.95" x2="551.6" y2="247.95" stroke="#000" stroke-width="1.2" stroke-linecap="butt"/>
<text transform="translate(542.4,247.95) rotate(-90)" x="0" y="2.12" font-size="5.9" text-anchor="middle" fill="#000" stroke="#000">0.6</text>
<line x1="547.6" y1="229.25" x2="551.6" y2="229.25" stroke="#000" stroke-width="1.2" stroke-linecap="butt"/>
<text transform="translate(542.4,229.25) rotate(-90)" x="0" y="2.12" font-size="5.9" text-anchor="middle" fill="#000" stroke="#000">0.8</text>
<line x1="547.6" y1="210.55" x2="551.6" y2="210.55" stroke="#000" stroke-width="1.2" stroke-linecap="butt"/>
<text transform="translate(542.4,210.55) rotate(-90)" x="0" y="2.12" font-size="5.9" text-anchor="middle" fill="#000" stroke="#000">1.0</text>
<line x1="556.07" y1="307.8" x2="556.07" y2="311.8" stroke="#000" stroke-width="1.2" stroke-linecap="butt"/>
<text x="556.07" y="320.12" font-size="5.9" text-anchor="middle" fill="#000" stroke="#000">0.2</text>
<line x1="571.98" y1="307.8" x2="571.98" y2="311.8" stroke="#000" stroke-width="1.2" stroke-linecap="butt"/>
<text x="571.98" y="320.12" font-size="5.9" text-anchor="middle" fill="#000" stroke="#000">0.3</text>
<line x1="587.89" y1="307.8" x2="587.89" y2="311.8" stroke="#000" stroke-width="1.2" stroke-linecap="butt"/>
<text x="587.89" y="320.12" font-size="5.9" text-anchor="middle" fill="#000" stroke="#000">0.4</text>
<line x1="603.8" y1="307.8" x2="603.8" y2="311.8" stroke="#000" stroke-width="1.2" stroke-linecap="butt"/>
<text x="603.8" y="320.12" font-size="5.9" text-anchor="middle" fill="#000" stroke="#000">0.5</text>
<line x1="619.7" y1="307.8" x2="619.7" y2="311.8" stroke="#000" stroke-width="1.2" stroke-linecap="butt"/>
<text x="619.7" y="320.12" font-size="5.9" text-anchor="middle" fill="#000" stroke="#000">0.6</text>
<line x1="635.61" y1="307.8" x2="635.61" y2="311.8" stroke="#000" stroke-width="1.2" stroke-linecap="butt"/>
<text x="635.61" y="320.12" font-size="5.9" text-anchor="middle" fill="#000" stroke="#000">0.7</text>
<line x1="651.52" y1="307.8" x2="651.52" y2="311.8" stroke="#000" stroke-width="1.2" stroke-linecap="butt"/>
<text x="651.52" y="320.12" font-size="5.9" text-anchor="middle" fill="#000" stroke="#000">0.8</text>
<line x1="667.43" y1="307.8" x2="667.43" y2="311.8" stroke="#000" stroke-width="1.2" stroke-linecap="butt"/>
<text x="667.43" y="320.12" font-size="5.9" text-anchor="middle" fill="#000" stroke="#000">0.9</text>
<text x="611.75" y="333.32" font-size="5.9" text-anchor="middle" fill="#000" stroke="#000">Nomogram−predicted 30−month AFS probability</text>
<text transform="translate(528.5,259.8) rotate(-90)" x="0" y="2.12" font-size="5.9" text-anchor="middle" fill="#000" stroke="#000">Actual 30−month AFS probability</text>
<line x1="609.31" y1="206.8" x2="609.31" y2="209.4" stroke="#000" stroke-width="0.8" stroke-linecap="butt"/>
<line x1="597.6" y1="206.8" x2="597.6" y2="209.4" stroke="#000" stroke-width="0.8" stroke-linecap="butt"/>
<line x1="630.37" y1="206.8" x2="630.37" y2="209.4" stroke="#000" stroke-width="0.8" stroke-linecap="butt"/>
<line x1="629.21" y1="206.8" x2="629.21" y2="209.4" stroke="#000" stroke-width="0.8" stroke-linecap="butt"/>
<line x1="605.56" y1="206.8" x2="605.56" y2="209.4" stroke="#000" stroke-width="0.8" stroke-linecap="butt"/>
<line x1="598.78" y1="206.8" x2="598.78" y2="209.4" stroke="#000" stroke-width="0.8" stroke-linecap="butt"/>
<line x1="620.19" y1="206.8" x2="620.19" y2="209.4" stroke="#000" stroke-width="0.8" stroke-linecap="butt"/>
<line x1="632.34" y1="206.8" x2="632.34" y2="209.4" stroke="#000" stroke-width="0.8" stroke-linecap="butt"/>
<line x1="591.54" y1="206.8" x2="591.54" y2="209.4" stroke="#000" stroke-width="0.8" stroke-linecap="butt"/>
<line x1="621.34" y1="206.8" x2="621.34" y2="209.4" stroke="#000" stroke-width="0.8" stroke-linecap="butt"/>
<line x1="641.6" y1="206.8" x2="641.6" y2="209.4" stroke="#000" stroke-width="0.8" stroke-linecap="butt"/>
<line x1="597.54" y1="206.8" x2="597.54" y2="209.4" stroke="#000" stroke-width="0.8" stroke-linecap="butt"/>
<line x1="576.28" y1="206.8" x2="576.28" y2="209.4" stroke="#000" stroke-width="0.8" stroke-linecap="butt"/>
<line x1="576.74" y1="206.8" x2="576.74" y2="209.4" stroke="#000" stroke-width="0.8" stroke-linecap="butt"/>
<line x1="619.92" y1="206.8" x2="619.92" y2="209.4" stroke="#000" stroke-width="0.8" stroke-linecap="butt"/>
<line x1="616.13" y1="206.8" x2="616.13" y2="209.4" stroke="#000" stroke-width="0.8" stroke-linecap="butt"/>
<line x1="641.47" y1="206.8" x2="641.47" y2="209.4" stroke="#000" stroke-width="0.8" stroke-linecap="butt"/>
<line x1="632.09" y1="206.8" x2="632.09" y2="209.4" stroke="#000" stroke-width="0.8" stroke-linecap="butt"/>
<line x1="577.4" y1="206.8" x2="577.4" y2="209.4" stroke="#000" stroke-width="0.8" stroke-linecap="butt"/>
<line x1="572.71" y1="206.8" x2="572.71" y2="209.4" stroke="#000" stroke-width="0.8" stroke-linecap="butt"/>
<line x1="578.87" y1="206.8" x2="578.87" y2="209.4" stroke="#000" stroke-width="0.8" stroke-linecap="butt"/>
<line x1="572.49" y1="206.8" x2="572.49" y2="209.4" stroke="#000" stroke-width="0.8" stroke-linecap="butt"/>
<line x1="618.76" y1="206.8" x2="618.76" y2="209.4" stroke="#000" stroke-width="0.8" stroke-linecap="butt"/>
<line x1="632.52" y1="206.8" x2="632.52" y2="209.4" stroke="#000" stroke-width="0.8" stroke-linecap="butt"/>
<line x1="636.2" y1="206.8" x2="636.2" y2="209.4" stroke="#000" stroke-width="0.8" stroke-linecap="butt"/>
<line x1="597.22" y1="206.8" x2="597.22" y2="209.4" stroke="#000" stroke-width="0.8" stroke-linecap="butt"/>
<line x1="619.54" y1="206.8" x2="619.54" y2="209.4" stroke="#000" stroke-width="0.8" stroke-linecap="butt"/>
<line x1="599.35" y1="206.8" x2="599.35" y2="209.4" stroke="#000" stroke-width="0.8" stroke-linecap="butt"/>
<line x1="603.38" y1="206.8" x2="603.38" y2="209.4" stroke="#000" stroke-width="0.8" stroke-linecap="butt"/>
<line x1="614.56" y1="206.8" x2="614.56" y2="209.4" stroke="#000" stroke-width="0.8" stroke-linecap="butt"/>
<line x1="591.03" y1="206.8" x2="591.03" y2="209.4" stroke="#000" stroke-width="0.8" stroke-linecap="butt"/>
<line x1="591.28" y1="206.8" x2="591.28" y2="209.4" stroke="#000" stroke-width="0.8" stroke-linecap="butt"/>
<line x1="618.4" y1="206.8" x2="618.4" y2="209.4" stroke="#000" stroke-width="0.8" stroke-linecap="butt"/>
<line x1="598.56" y1="206.8" x2="598.56" y2="209.4" stroke="#000" stroke-width="0.8" stroke-linecap="butt"/>
<line x1="600.94" y1="206.8" x2="600.94" y2="209.4" stroke="#000" stroke-width="0.8" stroke-linecap="butt"/>
<line x1="609.12" y1="206.8" x2="609.12" y2="209.4" stroke="#000" stroke-width="0.8" stroke-linecap="butt"/>
<line x1="612.6" y1="206.8" x2="612.6" y2="209.4" stroke="#000" stroke-width="0.8" stroke-linecap="butt"/>
<line x1="588.14" y1="206.8" x2="588.14" y2="209.4" stroke="#000" stroke-width="0.8" stroke-linecap="butt"/>
<line x1="600.14" y1="206.8" x2="600.14" y2="209.4" stroke="#000" stroke-width="0.8" stroke-linecap="butt"/>
<line x1="603.85" y1="206.8" x2="603.85" y2="209.4" stroke="#000" stroke-width="0.8" stroke-linecap="butt"/>
<line x1="605.67" y1="206.8" x2="605.67" y2="209.4" stroke="#000" stroke-width="0.8" stroke-linecap="butt"/>
<line x1="595.57" y1="206.8" x2="595.57" y2="209.4" stroke="#000" stroke-width="0.8" stroke-linecap="butt"/>
<line x1="609.3" y1="206.8" x2="609.3" y2="209.4" stroke="#000" stroke-width="0.8" stroke-linecap="butt"/>
<line x1="622.84" y1="206.8" x2="622.84" y2="209.4" stroke="#000" stroke-width="0.8" stroke-linecap="butt"/>
<line x1="602.19" y1="206.8" x2="602.19" y2="209.4" stroke="#000" stroke-width="0.8" stroke-linecap="butt"/>
<line x1="607.8" y1="206.8" x2="607.8" y2="209.4" stroke="#000" stroke-width="0.8" stroke-linecap="butt"/>
<line x1="592.25" y1="206.8" x2="592.25" y2="209.4" stroke="#000" stroke-width="0.8" stroke-linecap="butt"/>
<line x1="597.94" y1="206.8" x2="597.94" y2="209.4" stroke="#000" stroke-width="0.8" stroke-linecap="butt"/>
<line x1="612.24" y1="206.8" x2="612.24" y2="209.4" stroke="#000" stroke-width="0.8" stroke-linecap="butt"/>
<line x1="592" y1="206.8" x2="592" y2="209.4" stroke="#000" stroke-width="0.8" stroke-linecap="butt"/>
<line x1="620.35" y1="206.8" x2="620.35" y2="209.4" stroke="#000" stroke-width="0.8" stroke-linecap="butt"/>
<line x1="621.14" y1="206.8" x2="621.14" y2="209.4" stroke="#000" stroke-width="0.8" stroke-linecap="butt"/>
<line x1="591.43" y1="206.8" x2="591.43" y2="209.4" stroke="#000" stroke-width="0.8" stroke-linecap="butt"/>
<line x1="622.33" y1="206.8" x2="622.33" y2="209.4" stroke="#000" stroke-width="0.8" stroke-linecap="butt"/>
<line x1="601.58" y1="206.8" x2="601.58" y2="209.4" stroke="#000" stroke-width="0.8" stroke-linecap="butt"/>
<line x1="616.15" y1="206.8" x2="616.15" y2="209.4" stroke="#000" stroke-width="0.8" stroke-linecap="butt"/>
<line x1="615.6" y1="206.8" x2="615.6" y2="209.4" stroke="#000" stroke-width="0.8" stroke-linecap="butt"/>
<line x1="598.7" y1="206.8" x2="598.7" y2="209.4" stroke="#000" stroke-width="0.8" stroke-linecap="butt"/>
<line x1="612.62" y1="206.8" x2="612.62" y2="209.4" stroke="#000" stroke-width="0.8" stroke-linecap="butt"/>
<line x1="611.82" y1="206.8" x2="611.82" y2="209.4" stroke="#000" stroke-width="0.8" stroke-linecap="butt"/>
<line x1="617.38" y1="206.8" x2="617.38" y2="209.4" stroke="#000" stroke-width="0.8" stroke-linecap="butt"/>
<line x1="597.61" y1="206.8" x2="597.61" y2="209.4" stroke="#000" stroke-width="0.8" stroke-linecap="butt"/>
<line x1="615.48" y1="206.8" x2="615.48" y2="209.4" stroke="#000" stroke-width="0.8" stroke-linecap="butt"/>
<line x1="623.06" y1="206.8" x2="623.06" y2="209.4" stroke="#000" stroke-width="0.8" stroke-linecap="butt"/>
<line x1="612.51" y1="206.8" x2="612.51" y2="209.4" stroke="#000" stroke-width="0.8" stroke-linecap="butt"/>
<line x1="607.51" y1="206.8" x2="607.51" y2="209.4" stroke="#000" stroke-width="0.8" stroke-linecap="butt"/>
<line x1="592.03" y1="206.8" x2="592.03" y2="209.4" stroke="#000" stroke-width="0.8" stroke-linecap="butt"/>
<line x1="605.96" y1="206.8" x2="605.96" y2="209.4" stroke="#000" stroke-width="0.8" stroke-linecap="butt"/>
<line x1="600.77" y1="206.8" x2="600.77" y2="209.4" stroke="#000" stroke-width="0.8" stroke-linecap="butt"/>
<line x1="614.16" y1="206.8" x2="614.16" y2="209.4" stroke="#000" stroke-width="0.8" stroke-linecap="butt"/>
<line x1="555.75" y1="206.8" x2="555.75" y2="209.4" stroke="#000" stroke-width="0.8" stroke-linecap="butt"/>
<line x1="645.16" y1="206.8" x2="645.16" y2="209.4" stroke="#000" stroke-width="0.8" stroke-linecap="butt"/>
<line x1="577.23" y1="297.5" x2="577.23" y2="234.86" stroke="#B2182B" stroke-width="1.25" stroke-linecap="butt"/>
<line x1="575.73" y1="297.5" x2="578.73" y2="297.5" stroke="#B2182B" stroke-width="1.2" stroke-linecap="butt"/>
<line x1="575.73" y1="234.86" x2="578.73" y2="234.86" stroke="#B2182B" stroke-width="1.2" stroke-linecap="butt"/>
<line x1="597.43" y1="268.43" x2="597.43" y2="210.55" stroke="#B2182B" stroke-width="1.25" stroke-linecap="butt"/>
<line x1="595.93" y1="268.43" x2="598.93" y2="268.43" stroke="#B2182B" stroke-width="1.2" stroke-linecap="butt"/>
<line x1="595.93" y1="210.55" x2="598.93" y2="210.55" stroke="#B2182B" stroke-width="1.2" stroke-linecap="butt"/>
<line x1="606.66" y1="278.8" x2="606.66" y2="213.36" stroke="#B2182B" stroke-width="1.25" stroke-linecap="butt"/>
<line x1="605.16" y1="278.8" x2="608.16" y2="278.8" stroke="#B2182B" stroke-width="1.2" stroke-linecap="butt"/>
<line x1="605.16" y1="213.36" x2="608.16" y2="213.36" stroke="#B2182B" stroke-width="1.2" stroke-linecap="butt"/>
<line x1="616.05" y1="276" x2="616.05" y2="218.97" stroke="#B2182B" stroke-width="1.25" stroke-linecap="butt"/>
<line x1="614.55" y1="276" x2="617.55" y2="276" stroke="#B2182B" stroke-width="1.2" stroke-linecap="butt"/>
<line x1="614.55" y1="218.97" x2="617.55" y2="218.97" stroke="#B2182B" stroke-width="1.2" stroke-linecap="butt"/>
<line x1="629.73" y1="281.61" x2="629.73" y2="210.55" stroke="#B2182B" stroke-width="1.25" stroke-linecap="butt"/>
<line x1="628.23" y1="281.61" x2="631.23" y2="281.61" stroke="#B2182B" stroke-width="1.2" stroke-linecap="butt"/>
<line x1="628.23" y1="210.55" x2="631.23" y2="210.55" stroke="#B2182B" stroke-width="1.2" stroke-linecap="butt"/>
<g clip-path="url(#cH)">
<line x1="508.34" y1="313.4" x2="699.25" y2="201.2" stroke="#E0E0E0" stroke-width="1.1" stroke-linecap="butt"/>
</g>
<line x1="578.19" y1="279.86" x2="596.47" y2="246.43" stroke="#B2182B" stroke-width="1.5" stroke-linecap="butt"/>
<line x1="598.68" y1="246.24" x2="605.41" y2="254.62" stroke="#B2182B" stroke-width="1.5" stroke-linecap="butt"/>
<line x1="608.64" y1="255.88" x2="614.07" y2="255.07" stroke="#B2182B" stroke-width="1.5" stroke-linecap="butt"/>
<line x1="618.01" y1="254.4" x2="627.76" y2="252.53" stroke="#B2182B" stroke-width="1.5" stroke-linecap="butt"/>
<circle cx="577.23" cy="281.61" r="0.9" fill="#B2182B"/>
<circle cx="597.43" cy="244.68" r="0.9" fill="#B2182B"/>
<circle cx="606.66" cy="256.18" r="0.9" fill="#B2182B"/>
<circle cx="616.05" cy="254.78" r="0.9" fill="#B2182B"/>
<circle cx="629.73" cy="252.16" r="0.9" fill="#B2182B"/>
<path d="M575.93,276.38L578.53,278.98M575.93,278.98L578.53,276.38M575.93,276.38L578.53,276.38M575.93,278.98L578.53,278.98" stroke="#2166AC" stroke-width="1.0" fill="none"/>
<path d="M596.13,243.56L598.73,246.16M596.13,246.16L598.73,243.56M596.13,243.56L598.73,243.56M596.13,246.16L598.73,246.16" stroke="#2166AC" stroke-width="1.0" fill="none"/>
<path d="M605.36,256.84L607.96,259.44M605.36,259.44L607.96,256.84M605.36,256.84L607.96,256.84M605.36,259.44L607.96,259.44" stroke="#2166AC" stroke-width="1.0" fill="none"/>
<path d="M614.75,255.91L617.35,258.51M614.75,258.51L617.35,255.91M614.75,255.91L617.35,255.91M614.75,258.51L617.35,258.51" stroke="#2166AC" stroke-width="1.0" fill="none"/>
<path d="M628.43,257.4L631.03,260M628.43,260L631.03,257.4M628.43,257.4L631.03,257.4M628.43,260L631.03,260" stroke="#2166AC" stroke-width="1.0" fill="none"/>
<line x1="601.2" y1="300.7" x2="612" y2="300.7" stroke="#B2182B" stroke-width="1.4" stroke-linecap="butt"/>
<text x="613.5" y="302.81" font-size="5.85" text-anchor="start" fill="#000" stroke="#000">The validation cohort</text>
<text x="2.8" y="361.42" font-size="12.2" fill="#000">I</text>
<text x="99.3" y="371.76" font-size="6.0" text-anchor="middle" fill="#000" stroke="#000">24−month DCA curves</text>
<rect x="39.9" y="377.5" width="126.8" height="103.6" fill="none" stroke="#000" stroke-width="1.3"/>
<line x1="36.9" y1="464.5" x2="39.9" y2="464.5" stroke="#000" stroke-width="1.2" stroke-linecap="butt"/>
<text x="36.4" y="466.62" font-size="5.9" text-anchor="end" fill="#000" stroke="#000">0.0</text>
<line x1="36.9" y1="444.4" x2="39.9" y2="444.4" stroke="#000" stroke-width="1.2" stroke-linecap="butt"/>
<text x="36.4" y="446.52" font-size="5.9" text-anchor="end" fill="#000" stroke="#000">0.1</text>
<line x1="36.9" y1="424.3" x2="39.9" y2="424.3" stroke="#000" stroke-width="1.2" stroke-linecap="butt"/>
<text x="36.4" y="426.42" font-size="5.9" text-anchor="end" fill="#000" stroke="#000">0.2</text>
<line x1="36.9" y1="404.2" x2="39.9" y2="404.2" stroke="#000" stroke-width="1.2" stroke-linecap="butt"/>
<text x="36.4" y="406.32" font-size="5.9" text-anchor="end" fill="#000" stroke="#000">0.3</text>
<line x1="36.9" y1="384.1" x2="39.9" y2="384.1" stroke="#000" stroke-width="1.2" stroke-linecap="butt"/>
<text x="36.4" y="386.22" font-size="5.9" text-anchor="end" fill="#000" stroke="#000">0.4</text>
<line x1="45.2" y1="481.1" x2="45.2" y2="484.6" stroke="#000" stroke-width="1.2" stroke-linecap="butt"/>
<text x="45.2" y="489.72" font-size="5.9" text-anchor="middle" fill="#000" stroke="#000">0.00</text>
<line x1="73.95" y1="481.1" x2="73.95" y2="484.6" stroke="#000" stroke-width="1.2" stroke-linecap="butt"/>
<text x="73.95" y="489.72" font-size="5.9" text-anchor="middle" fill="#000" stroke="#000">0.25</text>
<line x1="102.7" y1="481.1" x2="102.7" y2="484.6" stroke="#000" stroke-width="1.2" stroke-linecap="butt"/>
<text x="102.7" y="489.72" font-size="5.9" text-anchor="middle" fill="#000" stroke="#000">0.50</text>
<line x1="131.45" y1="481.1" x2="131.45" y2="484.6" stroke="#000" stroke-width="1.2" stroke-linecap="butt"/>
<text x="131.45" y="489.72" font-size="5.9" text-anchor="middle" fill="#000" stroke="#000">0.75</text>
<line x1="160.2" y1="481.1" x2="160.2" y2="484.6" stroke="#000" stroke-width="1.2" stroke-linecap="butt"/>
<text x="160.2" y="489.72" font-size="5.9" text-anchor="middle" fill="#000" stroke="#000">1.00</text>
<text x="98.6" y="496.92" font-size="5.9" text-anchor="middle" fill="#000" stroke="#000">Threshold probability</text>
<text transform="translate(22.9,432) rotate(-90)" x="0" y="2.12" font-size="5.9" text-anchor="middle" fill="#000" stroke="#000">Net benefit</text>
<line x1="45.2" y1="464.5" x2="160.9" y2="464.5" stroke="#111" stroke-width="1.5" stroke-dasharray="2.4,2.8,7.6,2.4" stroke-linecap="butt"/>
<polyline points="49.11,381.69 50.32,382.99 51.53,384.32 52.74,385.68 53.95,387.07 55.16,388.5 56.37,389.95 57.58,391.44 58.79,392.97 60,394.54 61.21,396.14 62.42,397.78 63.63,399.46 64.84,401.19 66.06,402.96 67.27,404.78 68.48,406.64 69.69,408.55 70.9,410.52 72.11,412.54 73.32,414.62 74.53,416.75 75.74,418.95 76.95,421.21 78.16,423.53 79.37,425.93 80.58,428.4 81.79,430.94 83,433.57 84.21,436.28 85.42,439.08 86.63,441.96 87.84,444.95 89.05,448.04 90.26,451.23 91.47,454.54 92.68,457.96 93.89,461.51 95.1,465.19 96.31,469.01 97.53,472.98" fill="none" stroke="#B2182B" stroke-width="1.35" stroke-linejoin="round" stroke-linecap="butt"/>
<polyline points="46.69,438.84 47.19,439.61 47.68,440.38 48.18,441.16 48.67,441.95 49.17,442.74 49.66,443.55 50.16,444.36 50.65,445.17 51.15,446 51.64,446.83 52.13,447.67 52.63,448.51 53.12,449.37 53.62,450.23 54.11,451.1 54.61,451.98 55.1,452.87 55.6,453.76 56.09,454.66 56.58,455.58 57.08,456.5 57.57,457.43 58.07,458.37 58.56,459.31 59.06,460.27 59.55,461.24 60.05,462.22 60.54,463.2 61.04,464.2 61.53,465.2 62.02,466.22 62.52,467.24 63.01,468.28 63.51,469.33 64,470.39 64.5,471.46 64.99,472.54 65.49,473.63 65.98,474.73 66.47,475.84" fill="none" stroke="#2166AC" stroke-width="1.35" stroke-linejoin="round" stroke-linecap="butt"/>
<polyline points="67.4,405.8 70.5,411 73.5,416.5 76.5,420.2 79.4,420.9 82.4,422.4 84.7,426.2 86.9,432.2 87.7,439.6 89.2,438.1 91.4,438.9 92.9,441.9 95.1,446.4 95.9,450.9 96.6,456.8 98.1,453.8 99.6,451.6 101.1,453.1 102.6,456.1 104.9,459.8 107.9,461.6 110.1,460.6 111.6,462.8 113.1,464.3 116.8,465.8 121.3,467.3 125.8,470.3 128.3,471.8" fill="none" stroke="#B2182B" stroke-width="1.35" stroke-dasharray="3.2,2.8" stroke-linejoin="round" stroke-linecap="butt"/>
<polyline points="52.5,448.2 55.5,453.5 58.6,458.9 61.2,462.6 63.2,462.2 64.7,461.6 66.6,461.5 70.4,461.2 73.5,461.4 75.6,462.1 78.9,464 80.3,465.9 82.2,467.3" fill="none" stroke="#2166AC" stroke-width="1.35" stroke-dasharray="3.2,2.8" stroke-linejoin="round" stroke-linecap="butt"/>
<line x1="104.2" y1="383.4" x2="120.6" y2="383.4" stroke="#000" stroke-width="1.4" stroke-linecap="butt"/>
<text x="123" y="384.99" font-size="5.8" text-anchor="start" fill="#000" stroke="#000">None</text>
<text x="104.2" y="396.49" font-size="5.8" text-anchor="start" fill="#000" stroke="#000">The primary cohort</text>
<line x1="104.2" y1="401.4" x2="120.6" y2="401.4" stroke="#2166AC" stroke-width="1.4" stroke-linecap="butt"/>
<text x="123" y="403.09" font-size="5.8" text-anchor="start" fill="#000" stroke="#000">All</text>
<line x1="104.2" y1="407.4" x2="120.6" y2="407.4" stroke="#2166AC" stroke-width="1.4" stroke-dasharray="4.8,5.3" stroke-linecap="butt"/>
<text x="123" y="408.99" font-size="5.8" text-anchor="start" fill="#000" stroke="#000">Nomogram</text>
<text x="104.2" y="419.69" font-size="5.8" text-anchor="start" fill="#000" stroke="#000">The validation cohort</text>
<line x1="104.2" y1="424.7" x2="120.6" y2="424.7" stroke="#B2182B" stroke-width="1.4" stroke-linecap="butt"/>
<text x="123" y="426.39" font-size="5.8" text-anchor="start" fill="#000" stroke="#000">All</text>
<line x1="104.2" y1="430.4" x2="120.6" y2="430.4" stroke="#B2182B" stroke-width="1.4" stroke-dasharray="4.8,5.3" stroke-linecap="butt"/>
<text x="123" y="432.09" font-size="5.8" text-anchor="start" fill="#000" stroke="#000">Nomogram</text>
<text x="191.8" y="361.42" font-size="12.2" fill="#000">J</text>
<text x="269.8" y="371.76" font-size="6.0" text-anchor="middle" fill="#000" stroke="#000">30−month DCA curves</text>
<rect x="208.3" y="377.5" width="126.8" height="103.6" fill="none" stroke="#000" stroke-width="1.3"/>
<line x1="205.3" y1="464.5" x2="208.3" y2="464.5" stroke="#000" stroke-width="1.2" stroke-linecap="butt"/>
<text x="204.8" y="466.62" font-size="5.9" text-anchor="end" fill="#000" stroke="#000">0.0</text>
<line x1="205.3" y1="444.4" x2="208.3" y2="444.4" stroke="#000" stroke-width="1.2" stroke-linecap="butt"/>
<text x="204.8" y="446.52" font-size="5.9" text-anchor="end" fill="#000" stroke="#000">0.1</text>
<line x1="205.3" y1="424.3" x2="208.3" y2="424.3" stroke="#000" stroke-width="1.2" stroke-linecap="butt"/>
<text x="204.8" y="426.42" font-size="5.9" text-anchor="end" fill="#000" stroke="#000">0.2</text>
<line x1="205.3" y1="404.2" x2="208.3" y2="404.2" stroke="#000" stroke-width="1.2" stroke-linecap="butt"/>
<text x="204.8" y="406.32" font-size="5.9" text-anchor="end" fill="#000" stroke="#000">0.3</text>
<line x1="205.3" y1="384.1" x2="208.3" y2="384.1" stroke="#000" stroke-width="1.2" stroke-linecap="butt"/>
<text x="204.8" y="386.22" font-size="5.9" text-anchor="end" fill="#000" stroke="#000">0.4</text>
<line x1="213.6" y1="481.1" x2="213.6" y2="484.6" stroke="#000" stroke-width="1.2" stroke-linecap="butt"/>
<text x="213.6" y="489.72" font-size="5.9" text-anchor="middle" fill="#000" stroke="#000">0.00</text>
<line x1="242.35" y1="481.1" x2="242.35" y2="484.6" stroke="#000" stroke-width="1.2" stroke-linecap="butt"/>
<text x="242.35" y="489.72" font-size="5.9" text-anchor="middle" fill="#000" stroke="#000">0.25</text>
<line x1="271.1" y1="481.1" x2="271.1" y2="484.6" stroke="#000" stroke-width="1.2" stroke-linecap="butt"/>
<text x="271.1" y="489.72" font-size="5.9" text-anchor="middle" fill="#000" stroke="#000">0.50</text>
<line x1="299.85" y1="481.1" x2="299.85" y2="484.6" stroke="#000" stroke-width="1.2" stroke-linecap="butt"/>
<text x="299.85" y="489.72" font-size="5.9" text-anchor="middle" fill="#000" stroke="#000">0.75</text>
<line x1="328.6" y1="481.1" x2="328.6" y2="484.6" stroke="#000" stroke-width="1.2" stroke-linecap="butt"/>
<text x="328.6" y="489.72" font-size="5.9" text-anchor="middle" fill="#000" stroke="#000">1.00</text>
<text x="269.3" y="496.92" font-size="5.9" text-anchor="middle" fill="#000" stroke="#000">Threshold probability</text>
<text transform="translate(191.3,432) rotate(-90)" x="0" y="2.12" font-size="5.9" text-anchor="middle" fill="#000" stroke="#000">Net benefit</text>
<line x1="213.6" y1="464.5" x2="329.3" y2="464.5" stroke="#111" stroke-width="1.5" stroke-dasharray="2.4,2.8,7.6,2.4" stroke-linecap="butt"/>
<polyline points="230.85,381.74 231.93,383.06 233.01,384.41 234.09,385.79 235.17,387.21 236.26,388.66 237.34,390.14 238.42,391.66 239.5,393.21 240.58,394.8 241.66,396.44 242.74,398.11 243.82,399.83 244.9,401.59 245.98,403.39 247.07,405.25 248.15,407.15 249.23,409.11 250.31,411.12 251.39,413.19 252.47,415.31 253.55,417.5 254.63,419.75 255.71,422.07 256.79,424.45 257.88,426.91 258.96,429.45 260.04,432.07 261.12,434.77 262.2,437.56 263.28,440.44 264.36,443.41 265.44,446.49 266.52,449.68 267.6,452.98 268.69,456.4 269.77,459.94 270.85,463.62 271.93,467.44 273.01,471.4 274.09,475.53" fill="none" stroke="#B2182B" stroke-width="1.35" stroke-linejoin="round" stroke-linecap="butt"/>
<polyline points="214.64,433.77 215.19,434.61 215.75,435.45 216.3,436.3 216.86,437.16 217.42,438.03 217.97,438.91 218.53,439.79 219.08,440.69 219.64,441.59 220.2,442.51 220.75,443.43 221.31,444.36 221.86,445.3 222.42,446.25 222.98,447.22 223.53,448.19 224.09,449.17 224.64,450.16 225.2,451.17 225.76,452.18 226.31,453.21 226.87,454.25 227.42,455.29 227.98,456.35 228.54,457.43 229.09,458.51 229.65,459.6 230.2,460.71 230.76,461.83 231.32,462.97 231.87,464.11 232.43,465.27 232.98,466.45 233.54,467.63 234.1,468.84 234.65,470.05 235.21,471.28 235.76,472.52 236.32,473.78 236.88,475.06" fill="none" stroke="#2166AC" stroke-width="1.35" stroke-linejoin="round" stroke-linecap="butt"/>
<polyline points="242.9,399.9 245.5,404.5 247.9,408.9 249.9,417.9 249.9,422.9 252.9,423.9 254.9,426.9 257.9,428.9 260.9,431.9 263.5,434.9 264.9,436.8 266.9,433.9 267.9,438.8 269.9,443.8 271.8,442.8 272.8,451.8 275.8,448.8 278.8,446.8 280.8,449.8 282.8,453.8 285.8,455.8" fill="none" stroke="#B2182B" stroke-width="1.35" stroke-dasharray="3.2,2.8" stroke-linejoin="round" stroke-linecap="butt"/>
<polyline points="222,443.8 226,451 229.5,457.5 231.9,460.8 233.9,460.4 236.9,461.2 239.9,462.4 242.9,461.2 246.9,460.4 249.9,462.8 252.9,465.8 254.3,467.2" fill="none" stroke="#2166AC" stroke-width="1.35" stroke-dasharray="3.2,2.8" stroke-linejoin="round" stroke-linecap="butt"/>
<line x1="272.6" y1="383.4" x2="289" y2="383.4" stroke="#000" stroke-width="1.4" stroke-linecap="butt"/>
<text x="291.4" y="384.99" font-size="5.8" text-anchor="start" fill="#000" stroke="#000">None</text>
<text x="272.6" y="396.49" font-size="5.8" text-anchor="start" fill="#000" stroke="#000">The primary cohort</text>
<line x1="272.6" y1="401.4" x2="289" y2="401.4" stroke="#2166AC" stroke-width="1.4" stroke-linecap="butt"/>
<text x="291.4" y="403.09" font-size="5.8" text-anchor="start" fill="#000" stroke="#000">All</text>
<line x1="272.6" y1="407.4" x2="289" y2="407.4" stroke="#2166AC" stroke-width="1.4" stroke-dasharray="4.8,5.3" stroke-linecap="butt"/>
<text x="291.4" y="408.99" font-size="5.8" text-anchor="start" fill="#000" stroke="#000">Nomogram</text>
<text x="272.6" y="419.69" font-size="5.8" text-anchor="start" fill="#000" stroke="#000">The validation cohort</text>
<line x1="272.6" y1="424.7" x2="289" y2="424.7" stroke="#B2182B" stroke-width="1.4" stroke-linecap="butt"/>
<text x="291.4" y="426.39" font-size="5.8" text-anchor="start" fill="#000" stroke="#000">All</text>
<line x1="272.6" y1="430.4" x2="289" y2="430.4" stroke="#B2182B" stroke-width="1.4" stroke-dasharray="4.8,5.3" stroke-linecap="butt"/>
<text x="291.4" y="432.09" font-size="5.8" text-anchor="start" fill="#000" stroke="#000">Nomogram</text>
<text x="360" y="361.42" font-size="12.2" fill="#000">K</text>
<text x="402.4" y="364.92" font-size="5.9" text-anchor="start" fill="#000" stroke="#000">AFS curves of the primary cohort</text>
<polygon points="393.4,383.6 400.05,383.6 400.05,384.5 406.7,384.5 406.7,385.4 410.85,385.4 410.85,386.6 415,386.6 415,387.8 423.4,387.8 424.6,387.8 424.6,388.1 425.8,388.1 425.8,388.4 427.6,388.4 427.6,389.3 429.4,389.3 429.4,390.2 431.2,390.2 431.2,391.1 433,391.1 433,392 434.75,392 434.75,392.9 436.5,392.9 436.5,393.8 437.7,393.8 437.7,394.7 438.9,394.7 438.9,395.6 440.7,395.6 440.7,396.8 442.5,396.8 442.5,398 443.7,398 443.7,399.15 444.9,399.15 444.9,400.3 446.1,400.3 446.1,402.1 447.3,402.1 447.3,403.9 448.5,403.9 448.5,405.7 449.7,405.7 449.7,407.5 450.6,407.5 450.6,409.6 451.5,409.6 451.5,411.7 451.8,411.7 451.8,411.9 452.1,411.9 452.1,412.1 503.2,412.1 503.2,436.2 452.1,436.2 452.1,435.65 451.5,435.65 451.5,435.1 450.9,435.1 450.9,433.3 450,433.3 450,431.5 449.1,431.5 449.1,430 448.2,430 448.2,428.5 447.3,428.5 447.3,427 446.4,427 446.4,425.5 445.5,425.5 445.5,423.4 444.6,423.4 444.6,421.3 443.7,421.3 443.7,419.8 442.5,419.8 442.5,418.3 441.3,418.3 441.3,416.8 440.1,416.8 440.1,415.3 438.9,415.3 438.9,413.5 437.7,413.5 437.7,411.7 436.5,411.7 436.5,410.5 435.3,410.5 435.3,409.3 434.1,409.3 434.1,407.8 432.95,407.8 432.95,406.3 431.8,406.3 431.8,404.5 431.2,404.5 431.2,402.7 430.6,402.7 430.6,400.9 429.4,400.9 429.4,399.1 428.2,399.1 428.2,397.95 427.6,397.95 427.6,396.8 427,396.8 427,396.15 425.5,396.15 425.5,395.5 424,395.5 424,394.75 421.4,394.75 421.4,394 418.8,394 418.8,393.7 416.75,393.7 416.75,393.4 414.7,393.4 414.7,391.4 410.7,391.4 410.7,389.4 406.7,389.4 406.7,387.05 400.05,387.05 400.05,384.7 393.4,384.7" fill="#2166AC" fill-opacity="0.3" stroke="none"/>
<polygon points="393.4,383.6 396.7,383.6 396.7,385.15 400,385.15 400,386.7 403.35,386.7 403.35,389.05 406.7,389.05 406.7,391.4 410.05,391.4 410.05,393.4 413.4,393.4 413.4,395.4 414.2,395.4 414.2,396.1 415,396.1 415,396.8 416.2,396.8 416.2,398.55 417.4,398.55 417.4,400.3 418.6,400.3 418.6,403.9 419.8,403.9 419.8,407.5 421,407.5 421,410.5 422.2,410.5 422.2,413.5 424.6,413.5 424.6,415.3 427,415.3 427,417.1 430,417.1 430,418.3 433,418.3 433,419.5 434.5,419.5 434.5,420.1 436,420.1 436,420.7 445.5,420.7 445.5,435.1 433,435.1 433,432.7 431.2,432.7 431.2,430.3 429.4,430.3 429.4,428.5 427.6,428.5 427.6,426.7 425.8,426.7 425.8,424.9 424,424.9 424,423.1 422.2,423.1 422.2,420.7 421,420.7 421,418.3 419.8,418.3 419.8,415.9 418.9,415.9 418.9,413.5 418,413.5 418,410.2 416.5,410.2 416.5,406.9 415,406.9 415,404.5 412.85,404.5 412.85,402.1 410.7,402.1 410.7,401.05 408.7,401.05 408.7,400 406.7,400 406.7,399 405.7,399 405.7,398 404.7,398 404.7,395 403.05,395 403.05,392 401.4,392 401.4,390.35 399.4,390.35 399.4,388.7 397.4,388.7 397.4,386.7 395.4,386.7 395.4,384.7 393.4,384.7" fill="#B2182B" fill-opacity="0.3" stroke="none"/>
<polyline points="384.9,383.6 393.1,383.6 393.55,383.6 393.55,384.45 394,384.45 394,385.3 394.7,385.3 394.7,386 395.4,386 395.4,386.7 396.05,386.7 396.05,387.05 396.7,387.05 396.7,387.4 397.7,387.4 397.7,387.7 398.7,387.7 398.7,388 399.35,388 399.35,388.7 400,388.7 400,389.4 401,389.4 401,389.7 402,389.7 402,390 402.7,390 402.7,390.7 403.4,390.7 403.4,391.4 404.05,391.4 404.05,392.7 404.7,392.7 404.7,394 405.4,394 405.4,394.35 406.1,394.35 406.1,394.7 406.75,394.7 406.75,395.35 407.4,395.35 407.4,396 408.05,396 408.05,396.35 408.7,396.35 408.7,396.7 409.4,396.7 409.4,397.7 410.1,397.7 410.1,398.7 411.1,398.7 411.1,399.35 412.1,399.35 412.1,400 412.75,400 412.75,401.05 413.4,401.05 413.4,402.1 414.05,402.1 414.05,402.55 414.7,402.55 414.7,403 415.4,403 415.4,404.25 416.1,404.25 416.1,405.5 416.75,405.5 416.75,406.5 417.4,406.5 417.4,407.5 418.1,407.5 418.1,408.75 418.8,408.75 418.8,410 419.3,410 419.3,411.45 419.8,411.45 419.8,412.9 420.4,412.9 420.4,414.4 421,414.4 421,415.9 421.9,415.9 421.9,417.1 422.8,417.1 422.8,418.3 423.7,418.3 423.7,419.5 424.6,419.5 424.6,420.7 425.5,420.7 425.5,421.3 426.4,421.3 426.4,421.9 427.3,421.9 427.3,422.8 428.2,422.8 428.2,423.7 429.1,423.7 429.1,424.6 430,424.6 430,425.5 430.9,425.5 430.9,426.4 431.8,426.4 431.8,427.3 432.4,427.3 432.4,428.2 433,428.2 433,429.1 433.25,429.1 433.25,430.3 433.5,430.3 433.5,431.5 445.5,431.5 445.5,440" fill="none" stroke="#B2182B" stroke-width="1.2" stroke-linejoin="miter" stroke-linecap="butt"/>
<polyline points="384.9,383.6 393.4,383.6 395.7,383.6 395.7,384.15 398,384.15 398,384.7 399.7,384.7 399.7,385.05 401.4,385.05 401.4,385.4 403.05,385.4 403.05,385.85 404.7,385.85 404.7,386.3 405.7,386.3 405.7,386.85 406.7,386.85 406.7,387.4 408.4,387.4 408.4,387.7 410.1,387.7 410.1,388 411.4,388 411.4,388.7 412.7,388.7 412.7,389.4 413.85,389.4 413.85,390.4 415,390.4 415,391.4 423.4,391.4 424.3,391.4 424.3,392 425.2,392 425.2,392.6 426.1,392.6 426.1,393.5 427,393.5 427,394.4 428.2,394.4 428.2,395.3 429.4,395.3 429.4,396.2 430.6,396.2 430.6,397.1 431.8,397.1 431.8,398 432.65,398 432.65,399.15 433.5,399.15 433.5,400.3 434.4,400.3 434.4,400.9 435.3,400.9 435.3,401.5 436.2,401.5 436.2,402.1 437.1,402.1 437.1,402.7 437.7,402.7 437.7,403.9 438.3,403.9 438.3,405.1 439.2,405.1 439.2,406 440.1,406 440.1,406.9 441.3,406.9 441.3,408.4 442.5,408.4 442.5,409.9 443.4,409.9 443.4,411.1 444.3,411.1 444.3,412.3 444.9,412.3 444.9,413.8 445.5,413.8 445.5,415.3 446.1,415.3 446.1,416.8 446.7,416.8 446.7,418.3 447.6,418.3 447.6,419.8 448.5,419.8 448.5,421.3 449.1,421.3 449.1,422.5 449.7,422.5 449.7,423.7 450.3,423.7 450.3,425.5 450.9,425.5 450.9,427.3 451.5,427.3 451.5,428.5 452.1,428.5 452.1,429.7 503.2,429.7" fill="none" stroke="#2166AC" stroke-width="1.2" stroke-linejoin="miter" stroke-linecap="butt"/>
<line x1="454.4" y1="428.1" x2="454.4" y2="430.3" stroke="#2166AC" stroke-width="0.9" stroke-linecap="butt"/>
<line x1="453.4" y1="429.7" x2="455.4" y2="429.7" stroke="#2166AC" stroke-width="0.9" stroke-linecap="butt"/>
<line x1="503.2" y1="428.1" x2="503.2" y2="430.3" stroke="#2166AC" stroke-width="0.9" stroke-linecap="butt"/>
<line x1="502.2" y1="429.7" x2="504.2" y2="429.7" stroke="#2166AC" stroke-width="0.9" stroke-linecap="butt"/>
<line x1="393.1" y1="382" x2="393.1" y2="384.2" stroke="#B2182B" stroke-width="0.9" stroke-linecap="butt"/>
<line x1="392.1" y1="383.6" x2="394.1" y2="383.6" stroke="#B2182B" stroke-width="0.9" stroke-linecap="butt"/>
<line x1="438" y1="429.9" x2="438" y2="432.1" stroke="#B2182B" stroke-width="0.9" stroke-linecap="butt"/>
<line x1="437" y1="431.5" x2="439" y2="431.5" stroke="#B2182B" stroke-width="0.9" stroke-linecap="butt"/>
<line x1="441" y1="429.9" x2="441" y2="432.1" stroke="#B2182B" stroke-width="0.9" stroke-linecap="butt"/>
<line x1="440" y1="431.5" x2="442" y2="431.5" stroke="#B2182B" stroke-width="0.9" stroke-linecap="butt"/>
<line x1="395" y1="382" x2="395" y2="384.2" stroke="#2166AC" stroke-width="0.9" stroke-linecap="butt"/>
<line x1="394" y1="383.6" x2="396" y2="383.6" stroke="#2166AC" stroke-width="0.9" stroke-linecap="butt"/>
<line x1="399" y1="383.1" x2="399" y2="385.3" stroke="#2166AC" stroke-width="0.9" stroke-linecap="butt"/>
<line x1="398" y1="384.7" x2="400" y2="384.7" stroke="#2166AC" stroke-width="0.9" stroke-linecap="butt"/>
<line x1="403" y1="383.8" x2="403" y2="386" stroke="#2166AC" stroke-width="0.9" stroke-linecap="butt"/>
<line x1="402" y1="385.4" x2="404" y2="385.4" stroke="#2166AC" stroke-width="0.9" stroke-linecap="butt"/>
<line x1="407" y1="385.8" x2="407" y2="388" stroke="#2166AC" stroke-width="0.9" stroke-linecap="butt"/>
<line x1="406" y1="387.4" x2="408" y2="387.4" stroke="#2166AC" stroke-width="0.9" stroke-linecap="butt"/>
<line x1="411" y1="386.4" x2="411" y2="388.6" stroke="#2166AC" stroke-width="0.9" stroke-linecap="butt"/>
<line x1="410" y1="388" x2="412" y2="388" stroke="#2166AC" stroke-width="0.9" stroke-linecap="butt"/>
<line x1="414" y1="388.8" x2="414" y2="391" stroke="#2166AC" stroke-width="0.9" stroke-linecap="butt"/>
<line x1="413" y1="390.4" x2="415" y2="390.4" stroke="#2166AC" stroke-width="0.9" stroke-linecap="butt"/>
<line x1="418" y1="389.8" x2="418" y2="392" stroke="#2166AC" stroke-width="0.9" stroke-linecap="butt"/>
<line x1="417" y1="391.4" x2="419" y2="391.4" stroke="#2166AC" stroke-width="0.9" stroke-linecap="butt"/>
<line x1="421" y1="389.8" x2="421" y2="392" stroke="#2166AC" stroke-width="0.9" stroke-linecap="butt"/>
<line x1="420" y1="391.4" x2="422" y2="391.4" stroke="#2166AC" stroke-width="0.9" stroke-linecap="butt"/>
<line x1="426" y1="391" x2="426" y2="393.2" stroke="#2166AC" stroke-width="0.9" stroke-linecap="butt"/>
<line x1="425" y1="392.6" x2="427" y2="392.6" stroke="#2166AC" stroke-width="0.9" stroke-linecap="butt"/>
<line x1="430" y1="394.6" x2="430" y2="396.8" stroke="#2166AC" stroke-width="0.9" stroke-linecap="butt"/>
<line x1="429" y1="396.2" x2="431" y2="396.2" stroke="#2166AC" stroke-width="0.9" stroke-linecap="butt"/>
<line x1="434" y1="398.7" x2="434" y2="400.9" stroke="#2166AC" stroke-width="0.9" stroke-linecap="butt"/>
<line x1="433" y1="400.3" x2="435" y2="400.3" stroke="#2166AC" stroke-width="0.9" stroke-linecap="butt"/>
<line x1="437" y1="400.5" x2="437" y2="402.7" stroke="#2166AC" stroke-width="0.9" stroke-linecap="butt"/>
<line x1="436" y1="402.1" x2="438" y2="402.1" stroke="#2166AC" stroke-width="0.9" stroke-linecap="butt"/>
<line x1="441" y1="405.3" x2="441" y2="407.5" stroke="#2166AC" stroke-width="0.9" stroke-linecap="butt"/>
<line x1="440" y1="406.9" x2="442" y2="406.9" stroke="#2166AC" stroke-width="0.9" stroke-linecap="butt"/>
<line x1="397" y1="385.8" x2="397" y2="388" stroke="#B2182B" stroke-width="0.9" stroke-linecap="butt"/>
<line x1="396" y1="387.4" x2="398" y2="387.4" stroke="#B2182B" stroke-width="0.9" stroke-linecap="butt"/>
<line x1="401" y1="388.1" x2="401" y2="390.3" stroke="#B2182B" stroke-width="0.9" stroke-linecap="butt"/>
<line x1="400" y1="389.7" x2="402" y2="389.7" stroke="#B2182B" stroke-width="0.9" stroke-linecap="butt"/>
<line x1="405" y1="392.4" x2="405" y2="394.6" stroke="#B2182B" stroke-width="0.9" stroke-linecap="butt"/>
<line x1="404" y1="394" x2="406" y2="394" stroke="#B2182B" stroke-width="0.9" stroke-linecap="butt"/>
<line x1="409" y1="395.1" x2="409" y2="397.3" stroke="#B2182B" stroke-width="0.9" stroke-linecap="butt"/>
<line x1="408" y1="396.7" x2="410" y2="396.7" stroke="#B2182B" stroke-width="0.9" stroke-linecap="butt"/>
<line x1="412" y1="397.75" x2="412" y2="399.95" stroke="#B2182B" stroke-width="0.9" stroke-linecap="butt"/>
<line x1="411" y1="399.35" x2="413" y2="399.35" stroke="#B2182B" stroke-width="0.9" stroke-linecap="butt"/>
<line x1="416" y1="402.65" x2="416" y2="404.85" stroke="#B2182B" stroke-width="0.9" stroke-linecap="butt"/>
<line x1="415" y1="404.25" x2="417" y2="404.25" stroke="#B2182B" stroke-width="0.9" stroke-linecap="butt"/>
<line x1="420" y1="411.3" x2="420" y2="413.5" stroke="#B2182B" stroke-width="0.9" stroke-linecap="butt"/>
<line x1="419" y1="412.9" x2="421" y2="412.9" stroke="#B2182B" stroke-width="0.9" stroke-linecap="butt"/>
<line x1="424" y1="417.9" x2="424" y2="420.1" stroke="#B2182B" stroke-width="0.9" stroke-linecap="butt"/>
<line x1="423" y1="419.5" x2="425" y2="419.5" stroke="#B2182B" stroke-width="0.9" stroke-linecap="butt"/>
<line x1="427" y1="420.3" x2="427" y2="422.5" stroke="#B2182B" stroke-width="0.9" stroke-linecap="butt"/>
<line x1="426" y1="421.9" x2="428" y2="421.9" stroke="#B2182B" stroke-width="0.9" stroke-linecap="butt"/>
<line x1="431" y1="424.8" x2="431" y2="427" stroke="#B2182B" stroke-width="0.9" stroke-linecap="butt"/>
<line x1="430" y1="426.4" x2="432" y2="426.4" stroke="#B2182B" stroke-width="0.9" stroke-linecap="butt"/>
<line x1="379.2" y1="381" x2="379.2" y2="443.8" stroke="#000" stroke-width="1.3" stroke-linecap="butt"/>
<line x1="378.55" y1="443.2" x2="513.5" y2="443.2" stroke="#000" stroke-width="1.3" stroke-linecap="butt"/>
<line x1="377.6" y1="440.9" x2="379.2" y2="440.9" stroke="#333" stroke-width="0.8" stroke-linecap="butt"/>
<text x="377" y="443.62" font-size="5.9" text-anchor="end" fill="#111" stroke="#111">0%</text>
<line x1="377.6" y1="426.6" x2="379.2" y2="426.6" stroke="#333" stroke-width="0.8" stroke-linecap="butt"/>
<text x="377" y="429.32" font-size="5.9" text-anchor="end" fill="#111" stroke="#111">25%</text>
<line x1="377.6" y1="412.3" x2="379.2" y2="412.3" stroke="#333" stroke-width="0.8" stroke-linecap="butt"/>
<text x="377" y="415.02" font-size="5.9" text-anchor="end" fill="#111" stroke="#111">50%</text>
<line x1="377.6" y1="398" x2="379.2" y2="398" stroke="#333" stroke-width="0.8" stroke-linecap="butt"/>
<text x="377" y="400.72" font-size="5.9" text-anchor="end" fill="#111" stroke="#111">75%</text>
<line x1="377.6" y1="383.7" x2="379.2" y2="383.7" stroke="#333" stroke-width="0.8" stroke-linecap="butt"/>
<text x="377" y="386.42" font-size="5.9" text-anchor="end" fill="#111" stroke="#111">100%</text>
<line x1="384.9" y1="443.2" x2="384.9" y2="444.8" stroke="#333" stroke-width="0.8" stroke-linecap="butt"/>
<text x="384.9" y="450.02" font-size="5.9" text-anchor="middle" fill="#111" stroke="#111">0</text>
<line x1="404.62" y1="443.2" x2="404.62" y2="444.8" stroke="#333" stroke-width="0.8" stroke-linecap="butt"/>
<text x="404.62" y="450.02" font-size="5.9" text-anchor="middle" fill="#111" stroke="#111">24</text>
<line x1="424.33" y1="443.2" x2="424.33" y2="444.8" stroke="#333" stroke-width="0.8" stroke-linecap="butt"/>
<text x="424.33" y="450.02" font-size="5.9" text-anchor="middle" fill="#111" stroke="#111">48</text>
<line x1="444.05" y1="443.2" x2="444.05" y2="444.8" stroke="#333" stroke-width="0.8" stroke-linecap="butt"/>
<text x="444.05" y="450.02" font-size="5.9" text-anchor="middle" fill="#111" stroke="#111">72</text>
<line x1="463.76" y1="443.2" x2="463.76" y2="444.8" stroke="#333" stroke-width="0.8" stroke-linecap="butt"/>
<text x="463.76" y="450.02" font-size="5.9" text-anchor="middle" fill="#111" stroke="#111">96</text>
<line x1="483.48" y1="443.2" x2="483.48" y2="444.8" stroke="#333" stroke-width="0.8" stroke-linecap="butt"/>
<text x="483.48" y="450.02" font-size="5.9" text-anchor="middle" fill="#111" stroke="#111">120</text>
<line x1="503.2" y1="443.2" x2="503.2" y2="444.8" stroke="#333" stroke-width="0.8" stroke-linecap="butt"/>
<text x="503.2" y="450.02" font-size="5.9" text-anchor="middle" fill="#111" stroke="#111">144</text>
<text x="452.2" y="457.32" font-size="5.9" text-anchor="middle" fill="#000" stroke="#000">Time (months)</text>
<text transform="translate(358.2,413.3) rotate(-90)" x="0" y="1.96" font-size="5.45" text-anchor="middle" fill="#000" stroke="#000">AFS probability</text>
<text x="381.6" y="430.06" font-size="4.9" fill="#000" stroke="#000"><tspan font-style="italic">p</tspan> = 0.0001</text>
<text x="381.6" y="435.66" font-size="4.9" text-anchor="start" fill="#000" stroke="#000">HR = 3.199</text>
<text x="381.6" y="441.21" font-size="4.75" text-anchor="start" fill="#000" stroke="#000">95%CI (1.962~5.218)</text>
<text x="471.9" y="375.92" font-size="5.9" text-anchor="start" fill="#000" stroke="#000">Risk score</text>
<rect x="472.1" y="377.2" width="4.8" height="5" fill="#B2182B" fill-opacity="0.3"/>
<line x1="472.1" y1="379.8" x2="476.9" y2="379.8" stroke="#B2182B" stroke-width="1.2" stroke-linecap="butt"/>
<line x1="474.5" y1="378.2" x2="474.5" y2="380.6" stroke="#B2182B" stroke-width="0.9" stroke-linecap="butt"/>
<text x="478.8" y="381.89" font-size="5.8" text-anchor="start" fill="#000" stroke="#000">High</text>
<rect x="472.1" y="382.1" width="4.8" height="5" fill="#2166AC" fill-opacity="0.3"/>
<line x1="472.1" y1="384.7" x2="476.9" y2="384.7" stroke="#2166AC" stroke-width="1.2" stroke-linecap="butt"/>
<line x1="474.5" y1="383.1" x2="474.5" y2="385.5" stroke="#2166AC" stroke-width="0.9" stroke-linecap="butt"/>
<text x="478.8" y="386.79" font-size="5.8" text-anchor="start" fill="#000" stroke="#000">Low</text>
<text x="452.2" y="464.82" font-size="5.9" text-anchor="middle" fill="#000" stroke="#000">Number at risk</text>
<text x="376.8" y="472.82" font-size="5.9" text-anchor="end" fill="#B2182B" stroke="#B2182B">High</text>
<text x="376.8" y="479.72" font-size="5.9" text-anchor="end" fill="#2166AC" stroke="#2166AC">Low</text>
<text x="384.9" y="472.82" font-size="5.9" text-anchor="middle" fill="#B2182B" stroke="#B2182B">92</text>
<text x="384.9" y="479.72" font-size="5.9" text-anchor="middle" fill="#2166AC" stroke="#2166AC">82</text>
<text x="404.62" y="472.82" font-size="5.9" text-anchor="middle" fill="#B2182B" stroke="#B2182B">57</text>
<text x="404.62" y="479.72" font-size="5.9" text-anchor="middle" fill="#2166AC" stroke="#2166AC">56</text>
<text x="424.33" y="472.82" font-size="5.9" text-anchor="middle" fill="#B2182B" stroke="#B2182B">15</text>
<text x="424.33" y="479.72" font-size="5.9" text-anchor="middle" fill="#2166AC" stroke="#2166AC">23</text>
<text x="444.05" y="472.82" font-size="5.9" text-anchor="middle" fill="#B2182B" stroke="#B2182B">1</text>
<text x="444.05" y="479.72" font-size="5.9" text-anchor="middle" fill="#2166AC" stroke="#2166AC">8</text>
<text x="463.76" y="472.82" font-size="5.9" text-anchor="middle" fill="#B2182B" stroke="#B2182B">0</text>
<text x="463.76" y="479.72" font-size="5.9" text-anchor="middle" fill="#2166AC" stroke="#2166AC">1</text>
<text x="483.48" y="472.82" font-size="5.9" text-anchor="middle" fill="#B2182B" stroke="#B2182B">0</text>
<text x="483.48" y="479.72" font-size="5.9" text-anchor="middle" fill="#2166AC" stroke="#2166AC">1</text>
<text x="503.2" y="472.82" font-size="5.9" text-anchor="middle" fill="#B2182B" stroke="#B2182B">0</text>
<text x="503.2" y="479.72" font-size="5.9" text-anchor="middle" fill="#2166AC" stroke="#2166AC">1</text>
<line x1="379.2" y1="467.6" x2="379.2" y2="481.2" stroke="#000" stroke-width="1.3" stroke-linecap="butt"/>
<line x1="378.55" y1="480.6" x2="513.5" y2="480.6" stroke="#000" stroke-width="1.3" stroke-linecap="butt"/>
<line x1="384.9" y1="480.6" x2="384.9" y2="482.2" stroke="#333" stroke-width="0.8" stroke-linecap="butt"/>
<text x="384.9" y="487.52" font-size="5.9" text-anchor="middle" fill="#111" stroke="#111">0</text>
<line x1="404.62" y1="480.6" x2="404.62" y2="482.2" stroke="#333" stroke-width="0.8" stroke-linecap="butt"/>
<text x="404.62" y="487.52" font-size="5.9" text-anchor="middle" fill="#111" stroke="#111">24</text>
<line x1="424.33" y1="480.6" x2="424.33" y2="482.2" stroke="#333" stroke-width="0.8" stroke-linecap="butt"/>
<text x="424.33" y="487.52" font-size="5.9" text-anchor="middle" fill="#111" stroke="#111">48</text>
<line x1="444.05" y1="480.6" x2="444.05" y2="482.2" stroke="#333" stroke-width="0.8" stroke-linecap="butt"/>
<text x="444.05" y="487.52" font-size="5.9" text-anchor="middle" fill="#111" stroke="#111">72</text>
<line x1="463.76" y1="480.6" x2="463.76" y2="482.2" stroke="#333" stroke-width="0.8" stroke-linecap="butt"/>
<text x="463.76" y="487.52" font-size="5.9" text-anchor="middle" fill="#111" stroke="#111">96</text>
<line x1="483.48" y1="480.6" x2="483.48" y2="482.2" stroke="#333" stroke-width="0.8" stroke-linecap="butt"/>
<text x="483.48" y="487.52" font-size="5.9" text-anchor="middle" fill="#111" stroke="#111">120</text>
<line x1="503.2" y1="480.6" x2="503.2" y2="482.2" stroke="#333" stroke-width="0.8" stroke-linecap="butt"/>
<text x="503.2" y="487.52" font-size="5.9" text-anchor="middle" fill="#111" stroke="#111">144</text>
<text x="452.2" y="492.72" font-size="5.9" text-anchor="middle" fill="#000" stroke="#000">Time (months)</text>
<text x="533.6" y="361.42" font-size="12.2" fill="#000">L</text>
<text x="560.3" y="364.92" font-size="5.9" text-anchor="start" fill="#000" stroke="#000">AFS curves of the validation cohort</text>
<polygon points="572.8,383.4 584.8,383.4 584.8,384.5 590,384.5 590,386.5 596.8,386.5 596.8,388 612.9,388 612.9,389.4 620,389.4 620,391.4 627.7,391.4 627.7,394.7 652.5,394.7 652.5,398.1 676.6,398.1 676.6,383.4 678.8,383.4 678.8,436.2 676.6,436.2 676.6,418.2 652.5,418.2 652.5,414.8 640.4,414.8 640.4,413 627.7,413 627.7,410.1 620,410.1 620,407 616.9,407 616.9,404.8 614.2,404.8 614.2,401.4 610.2,401.4 610.2,400.1 603.5,400.1 603.5,398.1 596.8,398.1 596.8,395.4 590.2,395.4 590.2,392.7 583.5,392.7 583.5,390.7 576.8,390.7 576.8,386.7 572.8,386.7" fill="#2166AC" fill-opacity="0.3" stroke="none"/>
<polygon points="572.8,383.4 587.5,383.4 587.5,384 596.8,384 596.8,388 611.6,388 611.6,390.7 624.4,390.7 624.4,394.1 627.7,394.1 627.7,398.1 650.5,398.1 650.5,435.8 627.7,435.8 627.7,431.5 624.4,431.5 624.4,425.9 611.6,425.9 611.6,419.7 597.5,419.5 597.5,409.5 591.5,409.5 591.5,404.8 588.8,404.8 588.8,399.4 582.1,399.4 582.1,395.4 577.4,395.4 577.4,388 572.8,388" fill="#B2182B" fill-opacity="0.3" stroke="none"/>
<polyline points="572.8,383.4 572.8,386.7 574.8,386.7 574.8,388 581.5,388 581.5,390.7 582.1,390.7 582.1,394.1 586.8,394.1 586.8,398.1 591.5,398.1 591.5,400.8 593.5,400.8 593.5,400.1 595.5,400.1 595.5,400.8 597.5,400.8 597.5,406.8 611.6,406.8 611.6,413.5 624.4,413.5 624.4,420.2 627.7,420.2 627.7,426.5 650.5,426.5" fill="none" stroke="#B2182B" stroke-width="1.2" stroke-linejoin="miter" stroke-linecap="butt"/>
<polyline points="553.2,383.4 572.8,383.4 572.8,384 576.8,384 576.8,384.7 578.8,384.7 578.8,386 581.5,386 581.5,386.7 583.5,386.7 583.5,388 585.5,388 585.5,388.7 591.5,388.7 591.5,389.5 592.8,389.5 592.8,390.5 595.5,390.5 595.5,391.4 597.5,391.4 597.5,393.4 599.5,393.4 599.5,394.1 603.5,394.1 603.5,396.1 611.6,396.1 611.6,396.8 615,396.8 615,398.1 616.3,398.1 616.3,400.1 618.3,400.1 618.3,401.4 620,401.4 620,403.4 640.4,403.4 640.4,406.1 651.1,406.1 651.1,408.8 676.6,408.8 676.6,424.8 679.2,423.5" fill="none" stroke="#2166AC" stroke-width="1.2" stroke-linejoin="miter" stroke-linecap="butt"/>
<line x1="574.5" y1="382.4" x2="574.5" y2="384.6" stroke="#2166AC" stroke-width="0.9" stroke-linecap="butt"/>
<line x1="573.5" y1="384" x2="575.5" y2="384" stroke="#2166AC" stroke-width="0.9" stroke-linecap="butt"/>
<line x1="577.5" y1="383.1" x2="577.5" y2="385.3" stroke="#2166AC" stroke-width="0.9" stroke-linecap="butt"/>
<line x1="576.5" y1="384.7" x2="578.5" y2="384.7" stroke="#2166AC" stroke-width="0.9" stroke-linecap="butt"/>
<line x1="580" y1="384.4" x2="580" y2="386.6" stroke="#2166AC" stroke-width="0.9" stroke-linecap="butt"/>
<line x1="579" y1="386" x2="581" y2="386" stroke="#2166AC" stroke-width="0.9" stroke-linecap="butt"/>
<line x1="584" y1="386.4" x2="584" y2="388.6" stroke="#2166AC" stroke-width="0.9" stroke-linecap="butt"/>
<line x1="583" y1="388" x2="585" y2="388" stroke="#2166AC" stroke-width="0.9" stroke-linecap="butt"/>
<line x1="587" y1="387.1" x2="587" y2="389.3" stroke="#2166AC" stroke-width="0.9" stroke-linecap="butt"/>
<line x1="586" y1="388.7" x2="588" y2="388.7" stroke="#2166AC" stroke-width="0.9" stroke-linecap="butt"/>
<line x1="589" y1="387.1" x2="589" y2="389.3" stroke="#2166AC" stroke-width="0.9" stroke-linecap="butt"/>
<line x1="588" y1="388.7" x2="590" y2="388.7" stroke="#2166AC" stroke-width="0.9" stroke-linecap="butt"/>
<line x1="590.5" y1="387.1" x2="590.5" y2="389.3" stroke="#2166AC" stroke-width="0.9" stroke-linecap="butt"/>
<line x1="589.5" y1="388.7" x2="591.5" y2="388.7" stroke="#2166AC" stroke-width="0.9" stroke-linecap="butt"/>
<line x1="594" y1="388.9" x2="594" y2="391.1" stroke="#2166AC" stroke-width="0.9" stroke-linecap="butt"/>
<line x1="593" y1="390.5" x2="595" y2="390.5" stroke="#2166AC" stroke-width="0.9" stroke-linecap="butt"/>
<line x1="596.5" y1="389.8" x2="596.5" y2="392" stroke="#2166AC" stroke-width="0.9" stroke-linecap="butt"/>
<line x1="595.5" y1="391.4" x2="597.5" y2="391.4" stroke="#2166AC" stroke-width="0.9" stroke-linecap="butt"/>
<line x1="601" y1="392.5" x2="601" y2="394.7" stroke="#2166AC" stroke-width="0.9" stroke-linecap="butt"/>
<line x1="600" y1="394.1" x2="602" y2="394.1" stroke="#2166AC" stroke-width="0.9" stroke-linecap="butt"/>
<line x1="606" y1="394.5" x2="606" y2="396.7" stroke="#2166AC" stroke-width="0.9" stroke-linecap="butt"/>
<line x1="605" y1="396.1" x2="607" y2="396.1" stroke="#2166AC" stroke-width="0.9" stroke-linecap="butt"/>
<line x1="609" y1="394.5" x2="609" y2="396.7" stroke="#2166AC" stroke-width="0.9" stroke-linecap="butt"/>
<line x1="608" y1="396.1" x2="610" y2="396.1" stroke="#2166AC" stroke-width="0.9" stroke-linecap="butt"/>
<line x1="612.5" y1="395.2" x2="612.5" y2="397.4" stroke="#2166AC" stroke-width="0.9" stroke-linecap="butt"/>
<line x1="611.5" y1="396.8" x2="613.5" y2="396.8" stroke="#2166AC" stroke-width="0.9" stroke-linecap="butt"/>
<line x1="619" y1="399.8" x2="619" y2="402" stroke="#2166AC" stroke-width="0.9" stroke-linecap="butt"/>
<line x1="618" y1="401.4" x2="620" y2="401.4" stroke="#2166AC" stroke-width="0.9" stroke-linecap="butt"/>
<line x1="632" y1="401.8" x2="632" y2="404" stroke="#2166AC" stroke-width="0.9" stroke-linecap="butt"/>
<line x1="631" y1="403.4" x2="633" y2="403.4" stroke="#2166AC" stroke-width="0.9" stroke-linecap="butt"/>
<line x1="635" y1="401.8" x2="635" y2="404" stroke="#2166AC" stroke-width="0.9" stroke-linecap="butt"/>
<line x1="634" y1="403.4" x2="636" y2="403.4" stroke="#2166AC" stroke-width="0.9" stroke-linecap="butt"/>
<line x1="637" y1="401.8" x2="637" y2="404" stroke="#2166AC" stroke-width="0.9" stroke-linecap="butt"/>
<line x1="636" y1="403.4" x2="638" y2="403.4" stroke="#2166AC" stroke-width="0.9" stroke-linecap="butt"/>
<line x1="655" y1="407.2" x2="655" y2="409.4" stroke="#2166AC" stroke-width="0.9" stroke-linecap="butt"/>
<line x1="654" y1="408.8" x2="656" y2="408.8" stroke="#2166AC" stroke-width="0.9" stroke-linecap="butt"/>
<line x1="660" y1="407.2" x2="660" y2="409.4" stroke="#2166AC" stroke-width="0.9" stroke-linecap="butt"/>
<line x1="659" y1="408.8" x2="661" y2="408.8" stroke="#2166AC" stroke-width="0.9" stroke-linecap="butt"/>
<line x1="663" y1="407.2" x2="663" y2="409.4" stroke="#2166AC" stroke-width="0.9" stroke-linecap="butt"/>
<line x1="662" y1="408.8" x2="664" y2="408.8" stroke="#2166AC" stroke-width="0.9" stroke-linecap="butt"/>
<line x1="666" y1="407.2" x2="666" y2="409.4" stroke="#2166AC" stroke-width="0.9" stroke-linecap="butt"/>
<line x1="665" y1="408.8" x2="667" y2="408.8" stroke="#2166AC" stroke-width="0.9" stroke-linecap="butt"/>
<line x1="670" y1="407.2" x2="670" y2="409.4" stroke="#2166AC" stroke-width="0.9" stroke-linecap="butt"/>
<line x1="669" y1="408.8" x2="671" y2="408.8" stroke="#2166AC" stroke-width="0.9" stroke-linecap="butt"/>
<line x1="593.5" y1="398.5" x2="593.5" y2="400.7" stroke="#B2182B" stroke-width="0.9" stroke-linecap="butt"/>
<line x1="592.5" y1="400.1" x2="594.5" y2="400.1" stroke="#B2182B" stroke-width="0.9" stroke-linecap="butt"/>
<line x1="630" y1="424.9" x2="630" y2="427.1" stroke="#B2182B" stroke-width="0.9" stroke-linecap="butt"/>
<line x1="629" y1="426.5" x2="631" y2="426.5" stroke="#B2182B" stroke-width="0.9" stroke-linecap="butt"/>
<line x1="650.5" y1="424.9" x2="650.5" y2="427.1" stroke="#B2182B" stroke-width="0.9" stroke-linecap="butt"/>
<line x1="649.5" y1="426.5" x2="651.5" y2="426.5" stroke="#B2182B" stroke-width="0.9" stroke-linecap="butt"/>
<line x1="548.4" y1="381" x2="548.4" y2="443.2" stroke="#000" stroke-width="1.3" stroke-linecap="butt"/>
<line x1="547.75" y1="442.6" x2="681" y2="442.6" stroke="#000" stroke-width="1.3" stroke-linecap="butt"/>
<line x1="546.8" y1="439.7" x2="548.4" y2="439.7" stroke="#333" stroke-width="0.8" stroke-linecap="butt"/>
<text x="546.2" y="442.42" font-size="5.9" text-anchor="end" fill="#111" stroke="#111">0%</text>
<line x1="546.8" y1="425.4" x2="548.4" y2="425.4" stroke="#333" stroke-width="0.8" stroke-linecap="butt"/>
<text x="546.2" y="428.12" font-size="5.9" text-anchor="end" fill="#111" stroke="#111">25%</text>
<line x1="546.8" y1="411.1" x2="548.4" y2="411.1" stroke="#333" stroke-width="0.8" stroke-linecap="butt"/>
<text x="546.2" y="413.82" font-size="5.9" text-anchor="end" fill="#111" stroke="#111">50%</text>
<line x1="546.8" y1="396.8" x2="548.4" y2="396.8" stroke="#333" stroke-width="0.8" stroke-linecap="butt"/>
<text x="546.2" y="399.52" font-size="5.9" text-anchor="end" fill="#111" stroke="#111">75%</text>
<line x1="546.8" y1="382.5" x2="548.4" y2="382.5" stroke="#333" stroke-width="0.8" stroke-linecap="butt"/>
<text x="546.2" y="385.22" font-size="5.9" text-anchor="end" fill="#111" stroke="#111">100%</text>
<line x1="554.1" y1="442.6" x2="554.1" y2="444.2" stroke="#333" stroke-width="0.8" stroke-linecap="butt"/>
<text x="554.1" y="450.02" font-size="5.9" text-anchor="middle" fill="#111" stroke="#111">0</text>
<line x1="578.7" y1="442.6" x2="578.7" y2="444.2" stroke="#333" stroke-width="0.8" stroke-linecap="butt"/>
<text x="578.7" y="450.02" font-size="5.9" text-anchor="middle" fill="#111" stroke="#111">8</text>
<line x1="603.3" y1="442.6" x2="603.3" y2="444.2" stroke="#333" stroke-width="0.8" stroke-linecap="butt"/>
<text x="603.3" y="450.02" font-size="5.9" text-anchor="middle" fill="#111" stroke="#111">16</text>
<line x1="627.9" y1="442.6" x2="627.9" y2="444.2" stroke="#333" stroke-width="0.8" stroke-linecap="butt"/>
<text x="627.9" y="450.02" font-size="5.9" text-anchor="middle" fill="#111" stroke="#111">24</text>
<line x1="652.5" y1="442.6" x2="652.5" y2="444.2" stroke="#333" stroke-width="0.8" stroke-linecap="butt"/>
<text x="652.5" y="450.02" font-size="5.9" text-anchor="middle" fill="#111" stroke="#111">32</text>
<line x1="677.1" y1="442.6" x2="677.1" y2="444.2" stroke="#333" stroke-width="0.8" stroke-linecap="butt"/>
<text x="677.1" y="450.02" font-size="5.9" text-anchor="middle" fill="#111" stroke="#111">40</text>
<text x="621.2" y="457.32" font-size="5.9" text-anchor="middle" fill="#000" stroke="#000">Time (months)</text>
<text transform="translate(527.4,413.3) rotate(-90)" x="0" y="1.96" font-size="5.45" text-anchor="middle" fill="#000" stroke="#000">AFS probability</text>
<text x="550.8" y="429.16" font-size="4.9" fill="#000" stroke="#000"><tspan font-style="italic">p</tspan> = 0.017</text>
<text x="550.8" y="434.86" font-size="4.9" text-anchor="start" fill="#000" stroke="#000">HR = 2.495</text>
<text x="550.8" y="440.51" font-size="4.75" text-anchor="start" fill="#000" stroke="#000">95%CI (0.907~6.860)</text>
<text x="634.9" y="375.92" font-size="5.9" text-anchor="start" fill="#000" stroke="#000">Risk score</text>
<rect x="635.1" y="376.6" width="4.8" height="5" fill="#B2182B" fill-opacity="0.3"/>
<line x1="635.1" y1="379.2" x2="639.9" y2="379.2" stroke="#B2182B" stroke-width="1.2" stroke-linecap="butt"/>
<line x1="637.5" y1="377.6" x2="637.5" y2="380" stroke="#B2182B" stroke-width="0.9" stroke-linecap="butt"/>
<text x="641.8" y="381.29" font-size="5.8" text-anchor="start" fill="#000" stroke="#000">High</text>
<rect x="635.1" y="381.5" width="4.8" height="5" fill="#2166AC" fill-opacity="0.3"/>
<line x1="635.1" y1="384.1" x2="639.9" y2="384.1" stroke="#2166AC" stroke-width="1.2" stroke-linecap="butt"/>
<line x1="637.5" y1="382.5" x2="637.5" y2="384.9" stroke="#2166AC" stroke-width="0.9" stroke-linecap="butt"/>
<text x="641.8" y="386.19" font-size="5.8" text-anchor="start" fill="#000" stroke="#000">Low</text>
<text x="621.2" y="464.82" font-size="5.9" text-anchor="middle" fill="#000" stroke="#000">Number at risk</text>
<text x="546" y="472.82" font-size="5.9" text-anchor="end" fill="#B2182B" stroke="#B2182B">High</text>
<text x="546" y="479.72" font-size="5.9" text-anchor="end" fill="#2166AC" stroke="#2166AC">Low</text>
<text x="554.1" y="472.82" font-size="5.9" text-anchor="middle" fill="#B2182B" stroke="#B2182B">15</text>
<text x="554.1" y="479.72" font-size="5.9" text-anchor="middle" fill="#2166AC" stroke="#2166AC">60</text>
<text x="578.7" y="472.82" font-size="5.9" text-anchor="middle" fill="#B2182B" stroke="#B2182B">13</text>
<text x="578.7" y="479.72" font-size="5.9" text-anchor="middle" fill="#2166AC" stroke="#2166AC">56</text>
<text x="603.3" y="472.82" font-size="5.9" text-anchor="middle" fill="#B2182B" stroke="#B2182B">6</text>
<text x="603.3" y="479.72" font-size="5.9" text-anchor="middle" fill="#2166AC" stroke="#2166AC">34</text>
<text x="627.9" y="472.82" font-size="5.9" text-anchor="middle" fill="#B2182B" stroke="#B2182B">3</text>
<text x="627.9" y="479.72" font-size="5.9" text-anchor="middle" fill="#2166AC" stroke="#2166AC">16</text>
<text x="652.5" y="472.82" font-size="5.9" text-anchor="middle" fill="#B2182B" stroke="#B2182B">0</text>
<text x="652.5" y="479.72" font-size="5.9" text-anchor="middle" fill="#2166AC" stroke="#2166AC">11</text>
<text x="677.1" y="472.82" font-size="5.9" text-anchor="middle" fill="#B2182B" stroke="#B2182B">0</text>
<text x="677.1" y="479.72" font-size="5.9" text-anchor="middle" fill="#2166AC" stroke="#2166AC">2</text>
<line x1="548.4" y1="467.6" x2="548.4" y2="481.2" stroke="#000" stroke-width="1.3" stroke-linecap="butt"/>
<line x1="547.75" y1="480.6" x2="681" y2="480.6" stroke="#000" stroke-width="1.3" stroke-linecap="butt"/>
<line x1="554.1" y1="480.6" x2="554.1" y2="482.2" stroke="#333" stroke-width="0.8" stroke-linecap="butt"/>
<text x="554.1" y="487.52" font-size="5.9" text-anchor="middle" fill="#111" stroke="#111">0</text>
<line x1="578.7" y1="480.6" x2="578.7" y2="482.2" stroke="#333" stroke-width="0.8" stroke-linecap="butt"/>
<text x="578.7" y="487.52" font-size="5.9" text-anchor="middle" fill="#111" stroke="#111">8</text>
<line x1="603.3" y1="480.6" x2="603.3" y2="482.2" stroke="#333" stroke-width="0.8" stroke-linecap="butt"/>
<text x="603.3" y="487.52" font-size="5.9" text-anchor="middle" fill="#111" stroke="#111">16</text>
<line x1="627.9" y1="480.6" x2="627.9" y2="482.2" stroke="#333" stroke-width="0.8" stroke-linecap="butt"/>
<text x="627.9" y="487.52" font-size="5.9" text-anchor="middle" fill="#111" stroke="#111">24</text>
<line x1="652.5" y1="480.6" x2="652.5" y2="482.2" stroke="#333" stroke-width="0.8" stroke-linecap="butt"/>
<text x="652.5" y="487.52" font-size="5.9" text-anchor="middle" fill="#111" stroke="#111">32</text>
<line x1="677.1" y1="480.6" x2="677.1" y2="482.2" stroke="#333" stroke-width="0.8" stroke-linecap="butt"/>
<text x="677.1" y="487.52" font-size="5.9" text-anchor="middle" fill="#111" stroke="#111">40</text>
<text x="621.2" y="492.72" font-size="5.9" text-anchor="middle" fill="#000" stroke="#000">Time (months)</text>
</svg></body></html>
